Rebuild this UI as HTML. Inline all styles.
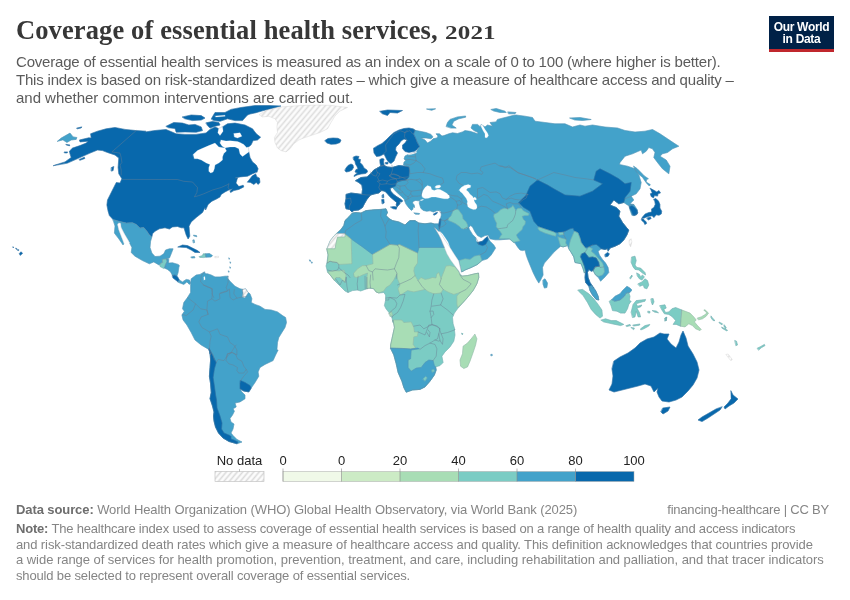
<!DOCTYPE html>
<html lang="en">
<head>
<meta charset="utf-8">
<title>Coverage of essential health services, 2021</title>
<style>
html,body{margin:0;padding:0;background:#fff;}
body{width:850px;height:600px;position:relative;overflow:hidden;font-family:"Liberation Sans",sans-serif;color:#5b5b5b;}
.abs{position:absolute;white-space:nowrap;}
#title{left:16px;top:14.5px;font-family:"Liberation Serif",serif;font-weight:bold;font-size:26.5px;line-height:30px;color:#373737;letter-spacing:0px;}
.sub{left:16px;font-size:15px;line-height:18px;color:#5b5b5b;}
#logo{left:769px;top:16px;width:65px;height:33px;background:#002147;border-bottom:3px solid #c0272d;color:#fff;font-weight:bold;font-size:12px;line-height:12px;text-align:center;letter-spacing:-0.3px;}
#logo span{display:block;}
.ft{font-size:13px;line-height:15.5px;color:#858585;}
.ft b{color:#6e6e6e;}
.lg{font-size:12px;color:#222;}
svg{position:absolute;left:0;top:0;}
#yr{display:inline-block;font-size:17.8px;transform-origin:0 100%;transform:scale(1.41,1);}
#title{letter-spacing:0.118px;}
#s1{letter-spacing:-0.198px;}
#s2{letter-spacing:-0.199px;}
#s3{letter-spacing:-0.021px;}
#f1{letter-spacing:-0.095px;}
#f2{letter-spacing:-0.201px;}
#f3{letter-spacing:-0.194px;}
#f4{letter-spacing:-0.107px;}
#f5{letter-spacing:-0.041px;}
#f6{letter-spacing:-0.150px;}
</style>
</head>
<body>
<div id="title" class="abs">Coverage of essential health services, <span id="yr">2021</span></div>
<div class="abs sub" id="s1" style="top:52.6px">Coverage of essential health services is measured as an index on a scale of 0 to 100 (where higher is better).</div>
<div class="abs sub" id="s2" style="top:70.6px">This index is based on risk-standardized death rates – which give a measure of healthcare access and quality –</div>
<div class="abs sub" id="s3" style="top:88.6px">and whether common interventions are carried out.</div>
<div id="logo" class="abs"><span style="margin-top:5px">Our World</span><span>in Data</span></div>
<svg id="map" width="850" height="600" viewBox="0 0 850 600">
<defs><pattern id="hatch2" width="4.2" height="4.2" patternUnits="userSpaceOnUse" patternTransform="rotate(40)"><rect width="4.2" height="4.2" fill="#fcfcfc"/><line x1="2.1" y1="0" x2="2.1" y2="4.2" stroke="#dddddd" stroke-width="1.5"/></pattern></defs>
<g stroke-linejoin="round" stroke-linecap="round">
<path d="M53.5,165.6 65,161.9 71.2,157.5 70,153.8 69.4,151.2 72.5,148.1 80,145.6 86.2,143.1 88.1,141.2 80,141.9 79.4,140 88.8,137.8 91.2,138.1 90.6,133.8 97.5,131.2 106.2,128.8 115,127.5 125,129.4 136.2,130.6 146,131.2 145,132 155,130.5 166,129.5 172,132 176,133.8 185,134.4 196,134.4 206,133 210,129.4 215,127 218.5,128.5 222.5,126.9 227.5,123.8 235,123.1 245,125 252.5,128.8 256.3,133.8 260.6,137.2 257.5,140 253.1,140.6 251.3,144.4 248.5,147.5 248.8,151.9 250,157.5 252.5,161.9 256.2,165 258.1,168.8 256.9,172.5 252.5,173.8 247.5,176.2 240,176.9 235,178.1 237.5,178.1 236.2,183.1 238.8,186.2 243.1,185 243.8,186.9 238.8,189.4 233.8,190.6 230.6,192.5 230,191.2 232.5,188.8 228.8,190 225,191.9 221.2,194.4 220,196.9 216.9,198.8 211.9,201.2 208.1,204.4 205.6,210 205,207.5 202.5,212.5 196.2,217.5 191.2,221.9 189,226.2 189.4,231.2 189.8,236.2 188.1,239 186.2,235 185,231.2 184,227.8 181.2,227.8 177.5,226.5 172.5,226.9 169.4,229 165,227.8 159.4,228.8 155,231.2 152.5,233.8 151.9,236.9 149.4,235 146.9,231.2 143.8,227.5 140,228.1 136.2,224.4 132.5,222.8 126.2,223.1 118.8,221.2 113.1,219.6 109.4,215.6 108.1,211.2 106.9,205 107.5,200 109,197 112.5,190 116.3,182.5 120,183.1 121.9,178.8 118.8,173.8 118.1,167.5 118.8,158.1 115,155 107.5,152.5 102.5,150.6 97.5,150 90,153.1 78.8,158.1 67.5,163.1Z" fill="#0868ac" stroke="#0868ac" stroke-width="0.5"/>
<path d="M193.1,154.4 197.5,150.5 201.3,148.8 208.8,145.6 215,143.1 218.8,146.9 225,148.1 226.5,151 223.8,153.5 222.5,156.9 222.5,160 218.8,163.1 215,165 214.4,168.8 213.1,171.9 210.6,173.1 208.8,171.3 208.8,167.5 210,164.4 206.3,163.1 201.3,160 197.5,158.8 194.4,158.8Z" fill="#fff" stroke="#fff" stroke-width="0.2"/>
<path d="M221,140 226,141 230,140.7 237.5,141.5 240,142.5 243.8,144.4 246.5,147.5 250.5,146.5 252,149 248.8,151.9 246,154 242.5,156.5 240,154 238.8,148.8 235,146.9 230,147 226.9,147.5 225,148.1 222,146 220,143Z" fill="#fff" stroke="#fff" stroke-width="0.2"/>
<path d="M113.1,219.6 118.8,221.2 126.2,223.1 132.5,222.8 136.2,224.4 140,228.1 143.8,227.5 146.9,231.2 149.4,235 151.9,236.9 150.6,241.2 150,247.5 151.9,253.1 155,256.5 160,256.2 163.8,253.8 165.6,250 169.4,248.8 173.1,248.8 171.2,253.8 169.4,258.1 166.9,258.8 162.5,259.4 162.5,262.5 160,263.8 159.4,265.2 153.8,261.9 149.4,263.8 142.5,260.6 135,256.2 131.2,252.5 131.9,247.5 128.1,240 124.4,233.8 121.2,227.5 120.6,223.1 118.8,222.8 117.5,224.4 118.8,230 121.2,236.2 123.8,243.1 123.1,245 118.8,238.8 114.4,233.1 115,226.2Z" fill="#43a2ca" stroke="#43a2ca" stroke-width="0.5"/>
<path d="M118.8,223 120.6,223.2 121.2,227.5 124.4,233.8 128.1,240 129.8,243.1 123.8,243.1 121.2,236.2 118.8,230 117.5,224.4Z" fill="#fff" stroke="#fff" stroke-width="0.2"/>
<path d="M162.5,259.4 166.9,258.8 166.9,262.5 165,265 166.2,266.5 163.8,268.5 160,266.5 160,263.8 162.5,262.5Z" fill="#7bccc4" stroke="#7bccc4" stroke-width="0.5"/>
<path d="M178.1,246.9 182.5,245 187.5,245.6 192.5,248.1 197.5,250.6 200,252.5 195,252.5 191.2,250 186.2,247.5 181.2,247.2Z" fill="#0868ac" stroke="#0868ac" stroke-width="0.5"/>
<path d="M166.2,126.2 173.8,122.5 182.5,123.1 188.8,125 195,124.4 201.2,126.9 202.5,130.6 196.2,132.2 185,131.9 176.2,132.2 175,128.5 168.8,127.8Z" fill="#0868ac" stroke="#0868ac" stroke-width="0.5"/>
<path d="M182.5,116.9 191.2,115 201.2,115.6 205,118.1 201.2,120 192.5,120.6 185,118.8Z" fill="#0868ac" stroke="#0868ac" stroke-width="0.5"/>
<path d="M206.2,122.8 212.5,121.5 218.8,122.5 220,125 215,126.2 210,128.1 207.5,125.6Z" fill="#0868ac" stroke="#0868ac" stroke-width="0.5"/>
<path d="M211.3,118.8 215,112.5 225,112.5 231,109.4 241,107.5 255,105.6 269,105.5 281,106 272.5,108.2 262.5,110.8 256,112.7 250,114 247.5,115 242.5,120.6 235,120.6 227.5,118.8 220,121.3 213.8,120.6Z" fill="#0868ac" stroke="#0868ac" stroke-width="0.5"/>
<path d="M218.8,126.5 222.5,126.9 223.1,131.2 220,135.6 217.8,132.8 218.5,129.4Z" fill="#fff" stroke="#fff" stroke-width="0.2"/>
<path d="M233.8,133.5 240,132.8 241.9,136.2 237.5,138.1 234.4,136.9Z" fill="#fff" stroke="#fff" stroke-width="0.2"/>
<path d="M215,116 225,115.2 225.2,116.2 216.2,117.1Z" fill="#fff" stroke="#fff" stroke-width="0.2"/>
<path d="M247.5,181.9 252.5,175.6 255.6,173.8 256.9,176.9 259.4,178.1 260,182.5 258.1,184.4 256.2,182.5 253.8,184.4 250.6,182.5Z" fill="#0868ac" stroke="#0868ac" stroke-width="0.5"/>
<path d="M256.9,172.5 253.1,174.8 248.1,177.2 241.2,178.1 238.1,178.4 236.5,183.1 239,186 243.1,184.8 246.2,181.5 251.2,175.6 255,173.1Z" fill="#fff" stroke="#fff" stroke-width="0.2"/>
<path d="M259.4,114.4 266,110.6 281,106.9 300,105.6 318.8,105 331,105.4 347.5,107.5 340,111 335,116 331,122.5 327.5,128.8 320,132.5 312.5,135 305,137.5 298.8,140 293.8,143.8 290,148.8 286,151.9 281,150.6 277.5,148 275,142.5 274.4,137.5 277.5,132.5 276.9,126.9 277.5,122.5 275,118.8 268.8,116.3 262.5,116.9Z" fill="url(#hatch2)" stroke="#d0d0d0" stroke-width="0.4"/>
<path d="M325,140.5 328,138.5 333,138 338,138.3 341,140 340,142.5 336,144 331,144.3 327,143Z" fill="#0868ac" stroke="#0868ac" stroke-width="0.5"/>
<path d="M57.5,141.2 61.2,138.1 70,133.1 73.1,136.9 76.9,137.5 76.2,139.4 71.2,140 66.9,142.5 63.1,140Z" fill="#43a2ca" stroke="#43a2ca" stroke-width="0.5"/>
<path d="M76.9,128.1 81.9,126.9 81.2,127.9 77.5,128.8Z" fill="#0868ac" stroke="#0868ac" stroke-width="0.5"/>
<path d="M66.2,144.4 70,145 69.4,145.8 66.5,145Z" fill="#0868ac" stroke="#0868ac" stroke-width="0.5"/>
<path d="M64.4,152 67.5,151.9 67.2,152.9 64.8,152.9Z" fill="#0868ac" stroke="#0868ac" stroke-width="0.5"/>
<path d="M79.4,159.4 84.4,157.2 84.8,158.5 80,160.2Z" fill="#0868ac" stroke="#0868ac" stroke-width="0.5"/>
<path d="M111.5,167.5 113.8,166.5 113.1,170.6 111.5,171Z" fill="#0868ac" stroke="#0868ac" stroke-width="0.5"/>
<path d="M166.9,258.8 168.8,259.4 168.5,263.1 172.5,262.8 178.1,264.4 179.4,265.6 178.8,267.5 178.1,272.5 176.9,276.2 175,275 172.5,275.6 170.6,271.9 167.5,269.4 164.4,268.1 165.6,264.4 166.9,261.9Z" fill="#43a2ca" stroke="#43a2ca" stroke-width="0.5"/>
<path d="M172.5,275.6 175,275 176.9,276.2 177.8,277.2 179.4,280 178.1,281.9 175.6,280 173.1,278.1Z" fill="#0868ac" stroke="#0868ac" stroke-width="0.5"/>
<path d="M178.1,281.9 179.4,280 182.5,281.9 186.2,279.4 189.4,280 190.6,283.1 189.4,284.4 186.9,281.9 183.8,284.4 181.2,283.5Z" fill="#43a2ca" stroke="#43a2ca" stroke-width="0.5"/>
<path d="M191.2,256.9 194.4,256.5 195,257.8 191.9,258Z" fill="#43a2ca" stroke="#43a2ca" stroke-width="0.5"/>
<path d="M199.4,256.5 202.5,255.6 203.1,253.8 205.6,253.8 206.2,257 203.8,257.6 200,257.4Z" fill="#7bccc4" stroke="#7bccc4" stroke-width="0.5"/>
<path d="M205.6,253.8 209.4,253.5 212.5,255.6 211.2,257 206.2,257.2Z" fill="#43a2ca" stroke="#43a2ca" stroke-width="0.5"/>
<path d="M215,256.5 218.5,256.2 218.5,257.5 215.2,257.8Z" fill="url(#hatch2)" stroke="#d0d0d0" stroke-width="0.4"/>
<path d="M193.1,240 194.1,239.8 194.6,242.5 193.6,242.8Z" fill="#43a2ca" stroke="#43a2ca" stroke-width="0.5"/>
<path d="M193.8,235.2 196.5,235.6 196.8,236.8 196,236.5 194,236Z" fill="#43a2ca" stroke="#43a2ca" stroke-width="0.5"/>
<path d="M190.6,283.1 191.2,278.8 196.2,275 200,274.4 204.4,271.9 205.6,273.8 207.5,273.8 211.2,275 215,276.9 220,276.9 225,276.2 228.1,276.2 227.5,278.1 230,281.2 235,286.2 240,288.8 243.1,289.4 245.6,288.8 248.1,292.5 250,293.8 251.9,298.8 251.2,302.5 255,304.4 260,306.2 265,309.4 271.2,310 277.5,311.9 282.5,315.6 285.6,317.5 286.5,322.5 285,327.5 281.9,332.5 278.8,337.5 277.5,342.5 276.9,350 278.1,350 275.6,355 273.1,360.6 265,364.4 260,367.5 258.1,371.9 258.8,376.2 255,382.5 251.2,388.1 248.8,391.9 243.8,391 240,388.8 241.9,391.9 245,395 245,398.8 240,401.9 235,403.1 236.2,406.9 233.1,408.8 234.4,411.2 232.5,415 232.5,415 230,418.5 231,422 234,424 233,429 231,433 233,435.5 237,439.5 242,442 237,443.8 229,441.5 223,438 218.5,433 215.5,427 214,421 213.5,416 214,412 212.5,406 210.5,400 210,398.8 211.2,392.5 210.6,383.8 209.4,376.2 210,367.5 210.6,360 210,352.5 210.6,355 208.8,349.4 201.2,345 195,340 191.2,332.5 186.9,325 183.1,320 181.9,315 184.4,311.2 182.5,308.8 183.8,302.5 187.5,297.5 190.6,292.5 190.6,285Z" fill="#43a2ca" stroke="#43a2ca" stroke-width="0.5"/>
<path d="M242.5,289.4 245.6,288.8 248.1,292.5 245,297.5 242.5,296.9 243.1,293.1Z" fill="url(#hatch2)" stroke="#d0d0d0" stroke-width="0.4"/>
<path d="M208.8,349.4 210.6,355 210,352.5 210.6,360 210,367.5 209.4,376.2 210.6,383.8 211.2,392.5 210,398.8 210.5,400 212.5,406 214,412 213.5,416 214,421 215.5,427 218.5,433 223,438 229,441.5 237,443.8 238,442 234,440 231,439 231,436.5 230,435.5 224,433 221.5,429 222,423 220,416 217,408 216.5,400 215.6,395 214.4,386.2 213.1,377.5 214.4,368.8 216.2,362.5 213.1,356.2 209.4,348.8Z" fill="#0868ac" stroke="#0868ac" stroke-width="0.5"/>
<path d="M240.6,380.6 245,382.5 250,385.6 251.2,388.1 248.8,391.9 243.8,391 240,388.8 240,383.8Z" fill="#0868ac" stroke="#0868ac" stroke-width="0.5"/>
<path d="M203.8,276.9 204.8,276.5 205.2,279.4 204,280Z" fill="#fff" stroke="#fff" stroke-width="0.2"/>
<path d="M413.8,130 420,131.3 426,132.5 431,134.4 433,136.9 431,138.8 426,138 421,138 425,140 427.5,143 431,141 433,138.8 437,138 438,136 436,133.8 439.4,133.8 442,136 444,135.6 448.8,133.8 452.5,132.8 457.5,133.5 462.5,131.9 465,130.6 470,131.3 474,132.5 477.5,133.8 478,132.5 474,130.6 471,128 472.5,124.4 477.5,124.4 480.5,127 481,124.4 485,126.9 487.5,125 492.5,126.3 490,122.5 496,121.9 497.5,119.4 505,117.5 512.5,115.6 516,115 525,116.2 532.5,117.5 535,121.2 545,122.5 555,123.8 565,123.8 572.5,127 580,125 585,126.2 592.5,125 605,127 617.5,128 625,130.5 635,132 645,131.2 652.5,129.5 660,133.8 667.5,138.8 675,143.8 678.8,146.2 672.5,148.8 667.5,152.5 662.5,153.8 660,156.2 666.2,160 670,166.2 668.8,173.8 662.5,168.8 657.5,162.5 653.8,157.5 655,152.5 652.5,148.8 648.8,147.5 646.2,151.2 642.5,153.8 641.2,150 632.5,153.8 625,156.2 620,162.5 619.5,164.5 627.5,166.2 635,168.8 638.8,175 641.2,182.5 640,188.8 636.2,193.8 631.2,196.2 633.8,200 630,203.8 633.8,204.5 637.5,210 636.2,214.5 632,215.5 630,210 628.8,205.5 627.5,205 623.8,202.5 618.8,203.8 613.8,200 610,205 616.2,207.5 620,211.2 618.8,216.2 622.5,222.5 627.5,228.8 628.8,230 626.9,235 623.8,240 620,243.8 615,246.2 610,248.1 608.1,251.2 607.5,248.8 605,249.4 601.2,248.8 598.1,251.2 599.4,255 602.5,259.4 605.6,263.1 608.1,267.5 608.8,272.5 605,276.9 600.6,281.2 598.8,278.1 595.6,275 593.1,270.6 591.2,271.2 588.8,269.4 587.5,272.5 588.1,277.5 590,282.5 592.5,286.2 592,286 595.6,290.6 598,296 598.8,300 596,299.4 592.5,295 590,290.6 588.8,286 585.6,282.5 585,277.5 585.6,271 584.4,273.1 583.1,268.8 581.2,263.8 578.1,263.1 575,262.5 573.8,256.9 571.2,252.5 568.8,248.8 567.5,245.6 563.1,246.9 560.6,246.2 556.9,249.4 553.1,253.1 548.8,258.1 544.4,263.1 542.5,267.5 543.1,275 540.6,280 538.8,283.1 536.2,278.8 533.1,272.5 530,265 527.5,258.8 526.2,255 525,250 522.5,250.6 520,250 517.5,246.9 515,243.1 512.5,241.2 510,239 500,239.8 495,239.8 490,238.8 488.1,235 485,235.6 481.2,237.5 477.5,235.6 475,231.9 472.5,226.9 470.6,225.6 468.8,227.5 469.4,229.4 472.5,234.4 475.6,237.5 476.2,241.2 478.1,242.5 482.5,241.2 486.2,237.5 487.5,236.5 488.1,238.1 490,241.2 493.8,245 495.6,248.1 491.2,255 487.5,258.8 481.9,260.6 477.5,264.4 471.2,267.5 465,270 461.9,271.9 461.2,271.9 460.6,268.1 458.8,261.2 454.4,254.4 450,247.5 445,240 440,231.9 439.4,229.3 440,222.9 440.4,219.2 441.3,215 440.8,211.3 439.2,210.4 436.7,210.8 433.3,212 430,210.8 426.7,211.3 423.3,210.4 420.8,208.3 420,205.8 419.2,202.9 420,200.8 417.9,200.8 415.8,200.4 413.3,201.3 412.5,202.9 414.2,205 414.6,207.5 413.3,206.7 412.9,209.2 411.7,210.4 410,209.2 407.9,206.7 405.8,203.8 405,201.7 404.2,199.2 401.7,196.7 398.3,193.8 395,190.4 392.5,187.5 390,188.3 390.8,191.3 393.3,194.2 396.7,196.7 400,198.8 402.5,200.8 401.7,202 399.6,201.7 400,203.3 398.8,205 397,206.7 396.2,205 396.7,202.5 393.3,199.6 390,196.7 387.5,193.8 385,191.3 381.7,190.4 378.8,193 375,193.8 370.6,195 366.9,199.4 364.4,203.8 362.5,207.5 358.8,210 353.8,210.6 351.9,211.9 349.4,209.4 346,208.8 345,203.8 346,198.8 346,194.4 351,193 357.5,193.8 361.9,194.4 362.5,189.4 361.9,185 358.8,182.5 355.6,180.6 361,177.5 367,176.9 370.6,173.8 373.8,170 377.5,168 381,166 384,165.5 387.5,166.9 392,167.5 398.8,165.6 403.8,166 408.8,166.9 403.5,165 404,162 406,160.5 404,159 405,156 408,154.5 412,153.3 416.5,151.5 419.5,146.5 417,142 415.5,138 413.5,134 415,130.5 413.5,129Z" fill="#43a2ca" stroke="#43a2ca" stroke-width="0.5"/>
<path d="M355.6,180.6 361,177.5 367,176.9 370.6,173.8 373.8,170 377.5,168 381,166 384,165.5 387.5,166.9 392,167.5 398.8,165.6 403.8,166 408.8,166.9 409.4,170.6 408.8,176.9 406,180 401.9,180.6 397.5,181.9 396,183.8 395.6,186 392,187.5 390,188.3 390.8,191.3 393.3,194.2 396.7,196.7 400,198.8 402.5,200.8 401.7,202 399.6,201.7 400,203.3 398.8,205 397,206.7 396.2,205 396.7,202.5 393.3,199.6 390,196.7 387.5,193.8 385,191.3 381.7,190.4 378.8,193 375,193.8 370.6,195 366.9,199.4 364.4,203.8 362.5,207.5 358.8,210 353.8,210.6 351.9,211.9 349.4,209.4 346,208.8 345,203.8 346,198.8 346,194.4 351,193 357.5,193.8 361.9,194.4 362.5,189.4 361.9,185 358.8,182.5Z" fill="#0868ac" stroke="#0868ac" stroke-width="0.5"/>
<path d="M373.5,148.5 374,153 376.5,156.5 380,156 384,154 385.5,157 387,160 389,162.5 391,163.5 394,161 395.5,157 397.5,153 395.5,150 396,147 399,144 401,141 404,139 407,140 405,143 402.5,145 402.5,148.5 405,151.5 409,152.5 414,151.5 416.5,150 419.5,146.5 417,142 415.5,138 413.5,134 415,130.5 413.5,129 409,128 404,128.5 399,130 394,132.5 390,136 386,140 382,143.5 378,145.5Z" fill="#0868ac" stroke="#0868ac" stroke-width="0.5"/>
<path d="M380,159.5 382,158.5 384,159 383.5,162 384.3,165.8 380.8,166.2 380,163Z" fill="#0868ac" stroke="#0868ac" stroke-width="0.5"/>
<path d="M385.5,162.5 388,162.2 387.8,164 385.8,164Z" fill="#0868ac" stroke="#0868ac" stroke-width="0.5"/>
<path d="M353.5,157 356,156 359,156.5 358,159 360.5,159.5 360,162.5 362.5,165 364,168 367,170 367.5,172 365.5,173.5 361,174 357,175 354,176.5 354.5,175 357.5,173 355,172 356,169.5 358,169 357,166.5 355.5,164 355,161.5 353.5,159.5Z" fill="#0868ac" stroke="#0868ac" stroke-width="0.5"/>
<path d="M346,168 348,165.5 351,164 353,165 353.5,167.5 352,170 349,171.5 346,172 345,170.5Z" fill="#0868ac" stroke="#0868ac" stroke-width="0.5"/>
<path d="M390.8,207 393.8,206.5 397,206.9 396.3,209.2 393.3,208.8Z" fill="#0868ac" stroke="#0868ac" stroke-width="0.5"/>
<path d="M381.8,199.6 383.8,199.2 384.2,202.9 382.5,203.8Z" fill="#0868ac" stroke="#0868ac" stroke-width="0.5"/>
<path d="M382.3,195 383.5,194.3 383.8,197.5 382.5,197.7Z" fill="#0868ac" stroke="#0868ac" stroke-width="0.5"/>
<path d="M433.3,214.2 435.4,212.9 437.5,212.3 436.7,213.8 434.6,215Z" fill="#0868ac" stroke="#0868ac" stroke-width="0.5"/>
<path d="M414.2,212.9 419.6,213.5 419.2,214.3 415.8,214.2Z" fill="#43a2ca" stroke="#43a2ca" stroke-width="0.5"/>
<path d="M421.7,195 422.9,190.8 425,187.5 427.5,185.4 430.8,186.7 431.7,189.6 434.2,190.4 437.5,189.2 440,189.6 443.3,191.2 446.7,193.3 449.2,195.4 449.6,197.5 447.9,198.8 444.2,198.8 440,197.9 435.8,197.1 431.7,197.1 428.3,198.3 425,198.5 422.5,197.3Z" fill="#fff" stroke="#fff" stroke-width="0.2"/>
<path d="M435,186.7 436.7,185.4 440,185 440.8,186.7 439.2,187.9 435.8,188.2Z" fill="#fff" stroke="#fff" stroke-width="0.2"/>
<path d="M459.2,190 461.2,187.5 464.2,185.4 468.3,184.6 470.8,185.4 470.4,187.5 467.5,188.3 466.2,190 468.3,191.7 470,194.2 472.5,196.2 473.3,197.9 475,197.1 476.7,199.2 475.4,200 473.8,199.6 474.6,202.1 476.7,205 477.1,207.9 475.8,209.3 473.3,209.6 470,208.3 467.9,206.7 467.1,204.2 467.5,201.2 466.2,198.3 464.2,195.8 462.1,192.9 460.4,191.7Z" fill="#fff" stroke="#fff" stroke-width="0.2"/>
<path d="M420.4,200 423.3,199.2 423.3,200 420.8,200.7Z" fill="#fff" stroke="#fff" stroke-width="0.2"/>
<path d="M480.6,124.4 482.5,125 485,129.4 487.5,133 488.5,135.6 487,137.8 485,137.5 485,133.8 483,130.6 481.3,127Z" fill="#fff" stroke="#fff" stroke-width="0.2"/>
<path d="M446.2,126.2 447.5,122.5 450,119.4 457.5,116.9 465.6,116 465.6,117.2 458.8,118.8 453.8,121.2 451.9,125 456.2,128.1 451.2,128.1Z" fill="#43a2ca" stroke="#43a2ca" stroke-width="0.5"/>
<path d="M426.9,109 435.6,108.8 431.9,110.2Z" fill="#43a2ca" stroke="#43a2ca" stroke-width="0.5"/>
<path d="M491.2,109.4 496.2,108.5 505,111.2 506.2,112.5 500,112.5 493.8,111Z" fill="#43a2ca" stroke="#43a2ca" stroke-width="0.5"/>
<path d="M508.1,111.9 516,112.5 515,113.8 508.8,113.8Z" fill="#43a2ca" stroke="#43a2ca" stroke-width="0.5"/>
<path d="M570,118 580,117.5 591.2,119.5 582.5,120.5 575,120Z" fill="#43a2ca" stroke="#43a2ca" stroke-width="0.5"/>
<path d="M633.8,166.3 637,168.5 641,172.5 644.3,175.9 648.4,178.7 646.6,179.6 646.1,181.9 650.3,184.6 649.3,186 646.6,183.2 644.3,180 642.5,177.3 639,174.5 636,171.5Z" fill="#43a2ca" stroke="#43a2ca" stroke-width="0.5"/>
<path d="M650.3,188.3 653.5,190.1 656.7,191.9 659,190.6 660.5,192.9 658,193.8 657.6,196.1 654.4,195.6 653.5,197.9 651.2,196.5 650.3,193.8 652.1,192.9Z" fill="#0868ac" stroke="#0868ac" stroke-width="0.5"/>
<path d="M653.9,199.3 655.8,198.4 658.5,201.1 659.9,204.3 659.9,208 661.7,211.2 661.3,213.9 659,215.3 656.2,214.8 653.9,217.6 652.1,215.8 649.3,216.2 646.6,217.1 644.3,218 641.6,218.5 642.5,217.1 645.2,213.9 648.9,212.5 651.6,212.1 651.6,208.9 653.9,207.5 655.3,204.3 654.8,201.6Z" fill="#0868ac" stroke="#0868ac" stroke-width="0.5"/>
<path d="M641.6,219 643.4,219 644.3,220.3 646.1,221.7 646.6,223.5 644.8,224.5 643.9,222.2 642,220.8Z" fill="#0868ac" stroke="#0868ac" stroke-width="0.5"/>
<path d="M647.1,218 650.3,217.1 651.2,218.5 648.4,219.9Z" fill="#0868ac" stroke="#0868ac" stroke-width="0.5"/>
<path d="M352.5,213 356,212.5 361,213 366,210.6 373.8,209.8 381,209.4 386,208.8 387.5,212.5 386,215.6 389.4,218.8 392.5,220.6 398.8,221.9 405,225 407.5,222.5 410,220.6 415,220.6 418.8,223 425,223.8 431,223 433.8,223.8 434.5,227.8 436.8,231.5 439,235.3 440.9,239 442.4,242.8 443.8,246 446.9,253.8 450.6,260 455,266 458.8,271 460.6,274.4 461.9,276.2 467.5,275.6 473.8,274 478.5,273.1 478.8,277.5 476.9,283.8 473.1,290.6 467.5,297.5 461.9,303.8 457.5,308.8 454.4,313.1 452.5,317.5 453.1,323.8 455,330 454.4,329.4 455,335 453.8,341.2 450,346.9 445,351.9 441.9,356.2 443.1,362.5 440,365.6 435.6,366.9 436.2,370 434.4,375 430,381.2 425,386.9 420,389.4 412.5,390 406.2,392.2 403.8,387.5 401.9,381.2 398.1,372.5 396.2,363.8 393.8,355 390.6,348.1 390.6,345 392.5,336.2 394.4,327.5 393.1,320 393,322.5 391.9,317.5 389.4,313 386,308.8 384.4,305.6 385.6,300 385.6,295 383.8,292.5 378.8,293 376,291.9 373.8,288.8 368.8,288 365,289.4 360.6,291 357.5,290 352.5,290.6 348,292.5 345,291 340,286 335,281 331,276 327.5,271.9 326,266 326.9,263 328,255 326.9,248.8 330,241 333.8,236 336.9,233 341,229.4 343.8,225.6 345,220.6 348.8,216.9Z" fill="#7bccc4" stroke="#7bccc4" stroke-width="0.5"/>
<path d="M352.5,213 356,212.5 361,213 366,210.6 373.8,209.8 381,209.4 386,208.8 387.5,212.5 386,215.6 389.4,218.8 392.5,220.6 398.8,221.9 405,225 407.5,222.5 410,220.6 415,220.6 418.8,223 425,223.8 431,223 433.8,223.8 438.8,223.8 439.4,229.3 440,231.5 438.5,231.5 436.5,229.5 434.5,227.8 436.8,231.5 439,235.3 440.9,239 442.4,242.8 443.8,246 444.5,247.5 431,247.5 419,247.5 417.5,253.1 399.4,244.4 397.5,245.2 390,244.4 379.4,250.6 372.5,254.4 362.5,246.9 351.2,239 345,234 345,233.5 336.9,233.5 341,229.4 343.8,225.6 345,220.6 348.8,216.9Z" fill="#43a2ca" stroke="#43a2ca" stroke-width="0.5"/>
<path d="M326.9,248.8 330,241.2 333.8,236.2 336.9,233.5 345,233.5 345,236.9 337.5,237.2 336.2,242.5 335,248.8Z" fill="url(#hatch2)" stroke="#d0d0d0" stroke-width="0.4"/>
<path d="M326.9,248.8 335,248.8 336.2,242.5 337.5,237.2 345,236.9 345,234 351.2,239 351.9,263.8 338.8,264.4 336.9,262.5 332.5,261.9 330,261.2 327.5,263.1 328.1,255Z" fill="#a8ddb5" stroke="#a8ddb5" stroke-width="0.5"/>
<path d="M328,272 333,270.5 339,271 344,270 346,275 345,282.5 342.5,280 340,277.5 336,277.5 334.4,280.6 331,276Z" fill="#a8ddb5" stroke="#a8ddb5" stroke-width="0.5"/>
<path d="M353.8,273 357.5,268.8 362.5,265.6 366.3,265.6 373,263.8 372.5,254.4 379.4,250.6 390,244.4 397.5,245.3 399.4,244.4 417.5,253 417.5,263 414.4,267.5 413.8,271 415,275.6 418,280.6 421,277.5 425,279.4 428.8,278.8 432.5,277.5 436,278 436.9,273.8 438.8,272.5 441,278.8 443,273.8 446,266 450,265.6 455,266.9 458.8,271.9 460,275 461.9,276 467.5,275.6 473.8,274 478.5,273.1 478.8,277.5 476.9,283.8 473.1,290.6 467.5,297.5 461.9,303.8 457.5,307.5 456.9,303.8 456.9,296 460,292.5 453.8,294.4 448.8,292.5 443,289.4 441,293 433.8,293.8 428.8,291.9 425,289.4 420,290.6 413.8,291.9 407.5,290.6 402.5,293.8 400,295 398,288.8 400,285 397.5,278.8 396.9,273.8 393.8,280 390,285 386,287.5 383.8,291 378.8,293 376,291.9 373.8,288.8 370.6,288 366.9,288.8 366.9,277.5 367.5,273 362.5,275 357.5,277.5 354.4,276.9Z" fill="#a8ddb5" stroke="#a8ddb5" stroke-width="0.5"/>
<path d="M393.1,320 401.9,320 403.8,322.5 411.2,321.9 413.8,327.5 414.4,331.9 418.1,331.9 417.5,336.2 413.8,336.9 413.1,344.4 415.6,347.8 410.6,349 403.8,348.5 390.6,348.1 390.6,345 392.5,336.2 394.4,327.5Z" fill="#a8ddb5" stroke="#a8ddb5" stroke-width="0.5"/>
<path d="M389,313 391.5,311.5 392.5,315.5 390.5,316.5Z" fill="#a8ddb5" stroke="#a8ddb5" stroke-width="0.5"/>
<path d="M390.6,348.1 403.8,348.5 410.6,349 417.5,348.1 419.4,348.8 411.2,350 410.6,358.8 408.1,360 408.1,367.5 411.2,371.2 416.2,368.1 421.2,367.5 425,362.5 428.8,360 433.1,360.6 434.4,365.6 435.6,366.9 436.2,370 434.4,375 430,381.2 425,386.9 420,389.4 412.5,390 406.2,392.2 403.8,387.5 401.9,381.2 398.1,372.5 396.2,363.8 393.8,355Z" fill="#43a2ca" stroke="#43a2ca" stroke-width="0.5"/>
<path d="M423.1,378.8 425.6,376.5 427.2,377.8 425,381Z" fill="#7bccc4" stroke="#7bccc4" stroke-width="0.5"/>
<path d="M431.9,370 433.8,369.4 434.4,371.2 432.5,372.2Z" fill="#7bccc4" stroke="#7bccc4" stroke-width="0.5"/>
<path d="M475,334.4 476.9,338.8 475.6,345 473.1,352.5 470,361.2 467.5,366.9 463.8,368.5 460.6,366.2 460,360 462.5,353.8 463.1,346.2 467.5,343.1 471.2,338.8Z" fill="#a8ddb5" stroke="#a8ddb5" stroke-width="0.5"/>
<path d="M518.8,202.5 526.2,195 530,186.2 537.5,180 547.5,185 553.8,188.8 565,195 580,196.2 592.5,191.2 602.5,183.8 593.8,180 596.2,171.2 600,168.8 610,173.8 618.8,178.8 625,183.8 631.2,182.5 630,191.2 625,197.5 623.8,202.5 618.8,203.8 613.8,200 610,205 616.2,207.5 620,211.2 618.8,216.2 622.5,222.5 627.5,228.8 628.8,230 626.9,235 623.8,240 620,243.8 615,246.2 610,248.1 608.1,251.2 607.5,248.8 605,249.4 601.2,248.8 598.8,246.2 596.2,244.4 592.5,245 588.8,246.9 585,247.5 581.2,242.5 580,238.1 578.1,233.1 574.4,231.2 573.1,228.1 570,228.8 565,231.2 558.8,232.5 553.8,231.9 546.2,229.4 538.8,226.9 533.8,221.2 530,211.2 523.8,207.5Z" fill="#0868ac" stroke="#0868ac" stroke-width="0.5"/>
<path d="M605,254.4 607.5,252.5 609.4,253.8 608.1,256.2 605.6,256.9Z" fill="#0868ac" stroke="#0868ac" stroke-width="0.5"/>
<path d="M629.7,206.6 632,205.7 634.7,207.5 637,210.3 637.9,213 636.5,214.8 633.8,215.8 632.4,213.9 631.5,211.2 630.1,208.9Z" fill="#0868ac" stroke="#0868ac" stroke-width="0.5"/>
<path d="M629.4,240 631.2,238.8 631.9,241.9 630.6,246.9 629.4,244.4Z" fill="url(#hatch2)" stroke="#d0d0d0" stroke-width="0.4"/>
<path d="M538.8,226.9 546.2,229.4 553.8,231.9 556.2,233.8 555.6,236.2 551.2,235 545,233.1 539.4,230.6 538.1,228.8Z" fill="#7bccc4" stroke="#7bccc4" stroke-width="0.5"/>
<path d="M558.8,232.5 563.1,232.5 563.8,234.4 559.4,235Z" fill="#7bccc4" stroke="#7bccc4" stroke-width="0.5"/>
<path d="M558.1,236.9 561.2,238.1 566.2,239.4 565.6,243.1 567.5,245.6 563.1,246.9 560.6,246.2 559.4,241.9Z" fill="#7bccc4" stroke="#7bccc4" stroke-width="0.5"/>
<path d="M578.1,233.1 580,238.1 581.2,242.5 585,247.5 586.9,249.4 585,252.5 581.9,253.8 580.6,256.9 582.5,261.2 584.4,266.2 585.6,271.2 584.4,273.1 583.1,268.8 581.2,263.8 578.1,263.1 575,262.5 573.8,256.9 571.2,252.5 568.8,248.8 569.4,244.4 570.6,240 572.5,235.6 574.4,231.2 576.2,231.9Z" fill="#7bccc4" stroke="#7bccc4" stroke-width="0.5"/>
<path d="M586.9,249.4 588.8,246.9 592.5,248.8 591.2,251.2 595,254.4 598.1,258.1 602.5,263.1 603.8,266.9 604.4,271.9 602.5,275 598.8,276.2 595.6,275 593.1,270.6 595,266.9 599.4,266.2 598.8,262.5 596.2,258.1 592.5,256.9 588.8,257.5 586.9,255 585,252.5Z" fill="#7bccc4" stroke="#7bccc4" stroke-width="0.5"/>
<path d="M581.9,253.8 585,252.5 586.9,255 588.8,257.5 592.5,256.9 596.2,258.1 598.8,262.5 599.4,266.2 595,266.9 593.1,270.6 591.2,271.2 588.8,269.4 587.5,272.5 588.1,277.5 590,282.5 592.5,286.2 594,287.8 592.2,288.8 588.8,286.2 585.6,282.5 585,277.5 585.6,271.2 584.4,266.2 582.5,261.2 580.6,256.9Z" fill="#0868ac" stroke="#0868ac" stroke-width="0.5"/>
<path d="M543.1,280 545,278.8 547.5,283.1 546.9,287.5 544.4,288.1 543.1,284.4Z" fill="#43a2ca" stroke="#43a2ca" stroke-width="0.5"/>
<path d="M448,218.8 451,216 453.3,210.5 455.9,209 458.5,209.8 460.8,213 462.3,215 463,218.8 466,221.8 467.5,224.8 467.9,227.4 466,228.5 463.8,228.9 461.5,228.5 459.3,226.3 455.5,223.6 451.8,221.8 448.8,220.6Z" fill="#7bccc4" stroke="#7bccc4" stroke-width="0.5"/>
<path d="M494.2,214.2 497.9,212.5 500.8,209.6 504.2,208.3 508.3,208.8 511.7,207.1 512.9,205.4 514.6,208.3 515.8,210.4 517.9,208.3 521.3,208.3 523.3,210.8 526.7,212.5 529.2,213.8 528.3,215.4 525,215.4 522.1,216.3 523.3,219.2 525.4,221.3 525,224.2 522.9,226.7 522.1,229.6 518.8,232.5 516.3,235 517.5,237.5 520,240.8 515.8,241.7 513.3,242.5 510.8,240 509.2,238.8 504.2,238.8 499.2,238.8 500.4,236.3 502.1,234.2 500,231.3 497.9,228.8 497.5,228.3 496.3,226.7 496.7,223.3 495,220 493.8,216.7Z" fill="#7bccc4" stroke="#7bccc4" stroke-width="0.5"/>
<path d="M459.4,260.6 465,258.8 470,259.4 474.4,256.2 480,255 481.9,260.6 477.5,264.4 471.2,267.5 465,270 461.9,271.9 460.6,268.1Z" fill="#7bccc4" stroke="#7bccc4" stroke-width="0.5"/>
<path d="M477.5,242.5 482.5,241.2 486.2,237.5 487.5,236.9 488.1,240 485.6,244.4 482.5,245.6 478.8,244.4Z" fill="#0868ac" stroke="#0868ac" stroke-width="0.5"/>
<path d="M439,222.5 439.8,218.8 440.9,219 440.6,222.5 440,226.3 439.4,229.3 438.8,225.5Z" fill="#0868ac" stroke="#0868ac" stroke-width="0.5"/>
<path d="M434.5,227.8 436.8,231.5 439,235.3 440.9,239 442.4,242.8 443.8,246 446.9,253.8 450.6,260 455,266 458.8,271 460.6,274.4 461.3,272.5 460.6,268 458.8,261 454.4,254.4 450,247.5 448,242 445,237.5 442.4,233.8 440,231.5 438.5,231.5 436.5,229.5Z" fill="#fff" stroke="#fff" stroke-width="0.2"/>
<path d="M578.1,290 582.5,289.4 588.8,293.8 593.8,298.8 598.1,304.4 601.9,310 602.5,316.2 600,318.1 595.6,314.4 591.2,309.4 587.5,302.5 583.1,295.6 579.4,291.9Z" fill="#7bccc4" stroke="#7bccc4" stroke-width="0.5"/>
<path d="M601.2,320 605.6,318.8 611.2,320.6 616.2,320.6 621.2,323.1 623.8,324.4 620.6,325.6 615,324.4 608.8,323.1 603.8,321.9Z" fill="#7bccc4" stroke="#7bccc4" stroke-width="0.5"/>
<path d="M626.2,325.6 630,324.4 630.6,325.6 626.9,326.5Z" fill="#7bccc4" stroke="#7bccc4" stroke-width="0.5"/>
<path d="M631.2,327.5 634.4,328.1 633.8,329.4Z" fill="#7bccc4" stroke="#7bccc4" stroke-width="0.5"/>
<path d="M633.1,325 640,324 639.4,325.2 633.8,326Z" fill="#7bccc4" stroke="#7bccc4" stroke-width="0.5"/>
<path d="M640.6,328.8 645,325.6 649.8,324.4 648.8,326 643.8,328.8 641.2,329.8Z" fill="#7bccc4" stroke="#7bccc4" stroke-width="0.5"/>
<path d="M609.4,301.2 611.9,299.4 615,301.2 620,300 624.4,296.2 626.2,293.1 628.8,292.5 630,296.2 629.4,300.6 631.2,301.2 628.8,304.4 627.5,308.8 625,313.1 620.6,313.1 616.9,311.2 612.5,310.6 611.2,306.2Z" fill="#7bccc4" stroke="#7bccc4" stroke-width="0.5"/>
<path d="M611.9,299.4 615,296.2 620,293.8 622.5,290.6 626.9,286.2 630,288.1 631.9,290 630,292.5 626.2,293.1 624.4,296.2 620,300 615,301.2Z" fill="#43a2ca" stroke="#43a2ca" stroke-width="0.5"/>
<path d="M589.4,286.2 591.9,285.6 595.6,290.6 598.1,296.2 598.8,300 596.2,299.4 592.5,295 590,290.6Z" fill="#43a2ca" stroke="#43a2ca" stroke-width="0.5"/>
<path d="M631.2,311.9 633.1,304.4 636.2,300.6 641.2,300 645.6,299.4 645,301.2 640,302.5 636.2,303.8 637.5,306.2 641.9,305 640.6,306.9 636.9,308.1 639.4,312.5 640.6,316.9 638.1,316.9 636.2,311.2 635,316.9 632.8,317.5Z" fill="#7bccc4" stroke="#7bccc4" stroke-width="0.5"/>
<path d="M651.2,298.8 653.1,298.5 654,301.9 652.5,305 651.5,302.5Z" fill="#7bccc4" stroke="#7bccc4" stroke-width="0.5"/>
<path d="M648.1,311.2 650,311.5 649.8,313.1 648.2,312.8Z" fill="#7bccc4" stroke="#7bccc4" stroke-width="0.5"/>
<path d="M652.5,310.6 656.2,311 658.5,312.8 655,312.2Z" fill="#7bccc4" stroke="#7bccc4" stroke-width="0.5"/>
<path d="M665.2,318.1 666.9,317.2 666.2,320.6Z" fill="#7bccc4" stroke="#7bccc4" stroke-width="0.5"/>
<path d="M660,305.6 665,304.8 666.2,308.1 663.8,309.4 665.6,312.5 668.8,311.9 671.9,308.8 675.6,307.5 681.9,310 680.6,326.2 676.2,324.4 673.1,324.4 675.6,320.6 672.5,316.9 668.8,314.4 664.4,313.8 661.9,310Z" fill="#7bccc4" stroke="#7bccc4" stroke-width="0.5"/>
<path d="M665,318.1 666.5,317.2 666.2,320.6 665,321Z" fill="#7bccc4" stroke="#7bccc4" stroke-width="0.5"/>
<path d="M681.9,310 690,313.1 693.8,316.9 696.2,320 694.4,321.9 697.5,325.6 701.2,329.4 700,330.6 695.6,328.8 692.5,325.6 688.8,323.8 685,326.9 680.6,326.2Z" fill="#a8ddb5" stroke="#a8ddb5" stroke-width="0.5"/>
<path d="M697.5,318.1 701.2,316.9 704.4,315 706.9,313.1 703.8,310 705,309.8 708.5,313.1 706.2,316.2 702.5,318.8 698.8,319.8Z" fill="#a8ddb5" stroke="#a8ddb5" stroke-width="0.5"/>
<path d="M711.2,316.2 713.1,318.8 715,320.6 713.1,320.6 711.2,318.1Z" fill="#7bccc4" stroke="#7bccc4" stroke-width="0.5"/>
<path d="M719.4,322.2 722.5,323.8 721.9,324.8 719.4,323.1Z" fill="#7bccc4" stroke="#7bccc4" stroke-width="0.5"/>
<path d="M724.4,325 726.2,327.5 725.6,328.8 724,326.2Z" fill="#7bccc4" stroke="#7bccc4" stroke-width="0.5"/>
<path d="M721.9,327.2 725,328.8 727.5,330.2 726.9,331 722.5,328.5Z" fill="#7bccc4" stroke="#7bccc4" stroke-width="0.5"/>
<path d="M735,340.6 736.5,341.2 737.5,345 736.2,345.6Z" fill="#7bccc4" stroke="#7bccc4" stroke-width="0.5"/>
<path d="M757.5,348.1 760,346.9 764.4,344.4 765,345.6 761.2,347.8 758.8,350Z" fill="#7bccc4" stroke="#7bccc4" stroke-width="0.5"/>
<path d="M726.2,354.4 728.1,354 732.2,359.4 731.2,360.6Z" fill="url(#hatch2)" stroke="#d0d0d0" stroke-width="0.4"/>
<path d="M631.9,256.9 635,256.2 636.2,260.6 635,265 636.9,267.5 640.6,268.1 645,272.5 645.6,275 642.5,273.1 638.8,270 635,269.4 633.1,266.9 631.2,262.5Z" fill="#7bccc4" stroke="#7bccc4" stroke-width="0.5"/>
<path d="M636.9,273.1 639.4,274.4 640.6,276.9 642.5,275 644.4,276.9 641.9,280 639.4,278.8 637.5,276.2Z" fill="#7bccc4" stroke="#7bccc4" stroke-width="0.5"/>
<path d="M638.1,283.8 641.9,281.9 645,278.8 647.5,280.6 648.8,285 646.9,288.8 644.4,288.1 643.1,285 640,286.2Z" fill="#7bccc4" stroke="#7bccc4" stroke-width="0.5"/>
<path d="M630,277.5 631.9,275 632.2,276.2 630.6,278.8Z" fill="#7bccc4" stroke="#7bccc4" stroke-width="0.5"/>
<path d="M614,361 620,357 628,353 635,348 640,343 647,339 654,337 660,333 664,334 669,334 667,339 671,344 676,348 679,342 681,335 683,331 686,338 688,346 693,354 697,362 699,370 697,378 693,385 688,391 682,397 676,400 669,402 662,401 659,397 657,392 658,388 654,392 651,386 645,384 638,386 630,388 622,390 614,392 609,390 612,384 613,376 612,369Z" fill="#0868ac" stroke="#0868ac" stroke-width="0.5"/>
<path d="M663,408 670,407 668,411 663,414 661,412Z" fill="#0868ac" stroke="#0868ac" stroke-width="0.5"/>
<path d="M731,391 733,395 738,399 734,403 729,406 725,409 724,407 728,403 731,399Z" fill="#0868ac" stroke="#0868ac" stroke-width="0.5"/>
<path d="M722,407 720,410 714,414 708,418 702,421.6 698,420 702,417 709,413 716,409Z" fill="#0868ac" stroke="#0868ac" stroke-width="0.5"/>
<path d="M380,111.3 387.5,110 402.5,110.5 397.5,113 390,112.5 387.5,115.5 382.5,113.8Z" fill="#0868ac" stroke="#0868ac" stroke-width="0.5"/>
<path d="M19.3,253.5 21,251.8 22.6,253.3 20.5,255.2Z" fill="#0868ac" stroke="#0868ac" stroke-width="0.5"/>
<path d="M17.8,249.6 18.8,249.8 18.6,250.6 17.8,250.4Z" fill="#0868ac" stroke="#0868ac" stroke-width="0.5"/>
<path d="M15.9,248.3 16.8,248.5 16.6,249.2Z" fill="#0868ac" stroke="#0868ac" stroke-width="0.5"/>
<path d="M13,246.9 13.7,247 13.5,247.6Z" fill="#0868ac" stroke="#0868ac" stroke-width="0.5"/>
<path d="M309.5,260 310.5,260.2 310.3,261.2Z" fill="#43a2ca" stroke="#43a2ca" stroke-width="0.5"/>
<path d="M311.5,262 312.4,262.2 312,263Z" fill="#43a2ca" stroke="#43a2ca" stroke-width="0.5"/>
<path d="M229,258 229.5,258.2 229.3,259Z" fill="#43a2ca" stroke="#43a2ca" stroke-width="0.5"/>
<path d="M230.2,262 230.7,262.2 230.5,263Z" fill="#43a2ca" stroke="#43a2ca" stroke-width="0.5"/>
<path d="M230,267 230.5,267.2 230.3,268Z" fill="#43a2ca" stroke="#43a2ca" stroke-width="0.5"/>
<path d="M228.5,271 229.2,271.2 228.9,272Z" fill="#43a2ca" stroke="#43a2ca" stroke-width="0.5"/>
<path d="M461.8,333.3 462.9,333.6 462.5,334.6Z" fill="#7bccc4" stroke="#7bccc4" stroke-width="0.5"/>
<path d="M491,354.5 492.1,354.2 492.3,355.6 491.3,355.8Z" fill="#43a2ca" stroke="#43a2ca" stroke-width="0.5"/>
<path d="M408.3,153.3 414,152.3 416.6,151.6 416.2,153 412,154.3 408.3,155Z" fill="#fff" stroke="#fff" stroke-width="0.2"/>
<g fill="none" stroke="#6b7f93" stroke-opacity="0.9" stroke-width="0.5">
<path d="M515.8,210.4 515.4,214.2 514.2,217.5 512.5,220.8 509.6,222.9 507.5,225 507.1,227.5 501.7,228.3 497.9,228.8"/>
<path d="M136.2,130.6 111.9,151.9 115.6,152.5 120,153.1 121.2,157.5 121.9,162.5 120,165 121.2,170 121.2,175"/>
<path d="M122,179.4 177.5,179.5 183.8,181.3 192.5,182 197.5,187.5 196.9,192.5 194.4,196.9 198.8,195.6 203.8,193.8 212.5,190 221.2,187.5 228.1,184.4 229,183.5 228.1,187.5 230,190.6"/>
<path d="M187.5,297.5 195.6,303.8 193.1,310 186.2,315.6 182.5,314.4"/>
<path d="M195.6,303.8 200.6,308.8 206.9,310 208.1,314.4 201.2,316.9 198.8,321.9 201.9,327.5 206.2,330 209.4,331.9 211.2,336.2 210,341.2 209.4,349.4 213.1,355 214.4,360"/>
<path d="M209.4,331.9 217.5,328.8 220,334.4 227.5,336.9 230,342.5 234.4,345.6 236.9,350 236.9,355 232.5,352.5 227.5,353.8 226.2,360"/>
<path d="M208.1,314.4 206.9,310 207.5,301.2 211.9,298.8 212.5,292.5 211.2,288.1 206.2,286.2 203.1,285"/>
<path d="M211.9,298.8 215,301.2 220,298.8 219.4,293.8 227.5,291.2 229.4,288.8 230,297.5 233.1,300 236.9,298.1 243.1,296.9 246.9,296.2"/>
<path d="M234.4,289.4 233.8,293.8 236.9,298.1"/>
<path d="M242.5,289.4 243.1,296.9"/>
<path d="M204.4,271.9 201.2,276.2 200.6,281.9 203.8,285 208.8,287.5 212.5,288.8 211.9,293.8 213.8,297.5"/>
<path d="M228.1,276.2 228.1,282.5 226.2,287.5 227.5,290.6 220,293.1"/>
<path d="M216.2,362.5 218.1,359.4 223.8,360.6 226.2,357.5 227.5,353.8 231.9,352.5 235.6,354.4 237.5,358.8 241.9,361.2 243.8,366.2 246.2,369.4 243.8,373.1 238.8,373.1 236.9,370.6 237.5,367.5 233.1,365 228.8,363.8 226.2,360.6"/>
<path d="M226.2,357.5 231.2,352.5 235,346.2 236.2,345"/>
<path d="M246.2,369.4 247.5,371.9 243.8,376.2 240.6,380.6"/>
<path d="M361.2,213.1 361.9,220 355,223.8 350,227.5 345.6,230.6 345,233.5"/>
<path d="M381.2,209.4 380.6,216.2 383.1,221.2 385,226.2 386.9,222.5 389.4,218.8"/>
<path d="M385,226.2 386.2,231.9 385.6,237.5 390,244.4"/>
<path d="M418.8,223.1 418.1,230 419,247.5"/>
<path d="M397.5,245.2 399.4,248.1 398.8,257.5 396.2,263.8 394.4,268.8 396.9,273.1 396.2,278.8"/>
<path d="M372.5,271.9 375,268.8 380,269.4 387.5,270 394.4,268.8"/>
<path d="M366.2,265.6 368.8,270.6 372.5,271.9 373.1,280"/>
<path d="M326.9,263.1 330,261.2 332.5,261.9 336.9,262.5 338.8,264.4 338.8,267.5 337.5,270 332.5,271.2 327.5,270"/>
<path d="M338.8,267.5 341.2,270 345,273.1 348.1,275 350,277.5"/>
<path d="M346.2,277.5 346.9,286.2 348.1,292.5"/>
<path d="M358.1,276.2 357.2,283.8 357.8,290"/>
<path d="M365,276.2 365.2,288.8"/>
<path d="M366.9,277.5 366.9,288.8"/>
<path d="M335.6,278.8 340,285 342.5,280 345,282.5 346.2,277.5"/>
<path d="M385.6,298.1 390,297.5 396.9,298.1 400,295 405,294.4 403.1,301.2 400.6,307.5 397.5,312.5 393.1,315.6 391.9,317.5"/>
<path d="M390,297.5 395,300 396.9,303.8 395.6,307.5 392.5,310 390,312.5"/>
<path d="M385.6,300 388.8,300 389,297.8"/>
<path d="M433.8,293.8 431.9,300 431.2,306.2 430,311.2 431.2,317.5 431.9,324.4 437.5,326.2 440,328.8"/>
<path d="M441.2,293.1 443.1,298.8 440.6,305 431.9,306.2"/>
<path d="M440.6,305 447.5,310 453.1,315"/>
<path d="M430,311.2 433.1,311 433.8,314.4 431.2,317.5"/>
<path d="M413.8,326.2 420,325 423.8,328.8 427.5,326.9 431.9,324.4"/>
<path d="M418.1,331.9 425,335 428.8,325 432.5,325 436.2,326.2 440,328.8 438.8,333.8 437.5,338.8 435,340 430,343.1 425,345.6 420,349.4"/>
<path d="M430,343.1 435,344.4 436.9,348.8 436.2,356.2 433.1,360.6"/>
<path d="M439.4,329.4 441.2,333.8 443.1,338.8 442.5,344.4 440,340.6 438.8,333.8"/>
<path d="M441.2,333.8 447.5,332.5 454.4,330"/>
<path d="M435,340 438.8,341.2 440,340.6"/>
<path d="M428.1,330 430,332.5 429.4,336.9 426.9,332.5"/>
<path d="M383.1,154.4 386.2,151.2 385.6,145 390,138.8 393.8,133.8 400,130.6 405,132.5 407.5,130"/>
<path d="M405,132.5 404.4,136.9 407.5,140.6"/>
<path d="M405,132.5 410,130.6 412.5,133.8"/>
<path d="M408.1,156.2 415,156.9"/>
<path d="M405,160 410,159.4 416.2,160.6"/>
<path d="M405,163.8 410,165 413.8,163.1 416.2,160.6 415.6,156.9 415,152.5"/>
<path d="M416.2,160.6 421.2,163.8 425,168.8 423.1,172.5 430,173.8 436.2,176.2 442.5,178.1 443.8,182.5 440,185"/>
<path d="M409.4,167.5 410,173.8 417.5,172.5 423.1,172.5"/>
<path d="M391.9,165 392.5,170 391.2,173.8 396.2,175 402.5,177.5 408.1,176.9"/>
<path d="M391.2,173.8 389.4,176.2 392.5,178.1 396.2,178.8"/>
<path d="M377.5,167.5 376.2,170 377.5,172.5 376.2,176.2 372.5,175 370.6,171.9"/>
<path d="M377.5,172.5 380,173.8 377.5,177.5 379.4,181.2"/>
<path d="M381.2,166 383.1,165"/>
<path d="M346.2,198.8 350.6,198.1 351.2,202.5 349.4,206.2 349.4,209.4"/>
<path d="M361.9,194.4 366.9,195 370.6,195"/>
<path d="M377.5,181.2 380,183.8 378.8,187.5 380,190 381.9,191.2"/>
<path d="M377.5,181.2 382.5,180 387.5,181.2 386.2,183.8 381.2,184.4 380,183.8"/>
<path d="M387.5,181.2 391.2,179.4 396.2,178.8 397.5,181.9 396.2,183.8 391.2,184.4 387.5,183.8 386.2,183.8"/>
<path d="M389.4,175.6 392.5,177.5 396.2,178.8 400,178.1 398.8,175.6 393.8,173.8 389.4,175.6"/>
<path d="M400,178.1 402.5,177.5 408.1,180"/>
<path d="M396.9,181.9 400,180.6 406.2,180 408.1,182.5 405,185.6 400,186.2 396.9,185"/>
<path d="M406.2,180 411.2,179.4 416.2,180 421.2,183.8 422.5,186.9 421.9,190 416.2,190.6 411.2,191.2 407.5,189.4 405,185.6"/>
<path d="M416.2,180 420,178.8 421.9,181.2 422.5,185"/>
<path d="M411.2,191.2 410.6,193.8 412.5,196.2 417.5,196.2 421.2,195.6 421.9,190"/>
<path d="M400,186.2 400,189.4 402.5,191.9 405,195 408.1,196.9 410.6,193.8"/>
<path d="M395.6,186.2 400,189.4"/>
<path d="M397.5,191.2 401.2,193.1 402.5,191.9"/>
<path d="M405,200.6 408.1,198.8 412.5,196.2"/>
<path d="M408.1,196.9 408.1,198.8"/>
<path d="M460,275 463.1,279.4 468.1,281.9 471.2,283.8 466.2,289.4 460,292.5"/>
<path d="M441.2,278.8 439.4,284.4 443.1,289.4"/>
<path d="M418.1,280.6 421.9,286.2 425,289.4"/>
<path d="M397.5,285 406.2,281.2 411.2,278.8 415,275.6"/>
<path d="M370.6,275 370,282.5 370.6,288.1"/>
<path d="M463.1,185.6 458.8,183.1 456.2,179.4 456.9,175.6 461.2,172.5 466.2,172.5 471.2,173.8 477.5,173.1 481.9,174.4 483.1,172.5 480,170 481.2,166.9 487.5,165 495,163.1 498.8,165.6 502.5,166.2 505,168.1 508.8,165.6 513.8,169.4 518.8,173.1 525,175 530,176.9 535.6,178.8"/>
<path d="M477.5,198.1 477.5,188.8 482.5,187.5 485.6,189.4 490,192.5 496.2,191.9 500,193.8 502.5,198.1 506.2,199.4 510,196.2 515,193.8 521.2,193.1 528.1,194.4"/>
<path d="M478.1,198.1 481.2,196.2 483.8,194.4 487.5,195.6 492.5,201.2 498.8,203.8 505,206.9 507.5,208.8"/>
<path d="M476.9,208.1 481.2,206.2 486.2,206.9 491.2,210 495,213.1"/>
<path d="M507.5,208.8 506.2,203.8 510,202.5 513.8,203.8 518.8,203.8 521.2,207.5"/>
<path d="M506.2,199.4 511.2,198.1 515,199.4 520,200 527.5,194.4"/>
<path d="M527.5,194.4 526.2,198.1 522.5,200 520,202.5 518.8,203.8"/>
<path d="M450,196.9 453.1,198.8 456.2,201.2 457.5,205 456.9,208.8 453.1,210.6 448.8,211.9 443.8,213.1 440,212.5 438.8,210.6"/>
<path d="M448.1,194.4 452.5,195.6 457.5,196.2 461.2,198.8 463.1,197.5"/>
<path d="M456.2,201.2 460,200.6 461.9,203.8 459.4,205 457.5,205"/>
<path d="M461.2,198.8 462.5,202.5 467.5,205"/>
<path d="M440.6,220 445,220.6 448.1,218.8"/>
<path d="M440,227.5 443.1,226.2 446.2,223.8 444.4,221.2 448.1,218.8"/>
<path d="M464.4,228.8 466.9,227.2 468.1,229.4"/>
<path d="M537.5,180 553.8,172.5 565,175 575,177.5 586.2,178.8 593.8,180"/>
<path d="M500,166.2 510,167.5 517.5,172.5 525,175 532.5,177.5 537.5,180"/>
<path d="M625,198.8 631.2,196.2"/>
<path d="M628.8,205.5 633.8,204.5"/>
<path d="M565,231.2 563.8,232.5 563.8,235 566.2,239.4"/>
<path d="M592.5,245 588.8,246.9"/>
<path d="M593.1,270.6 595,266.9 599.4,266.2 600,267.5 603.8,266.9"/>
<path d="M480,255 485.6,251.9 487.5,247.5 485.6,244.4"/>
<path d="M475.6,237.5 477.5,240.6 478.8,244.4"/>
<path d="M53.5,165.6 65,161.9 71.2,157.5 70,153.8 69.4,151.2 72.5,148.1 80,145.6 86.2,143.1 88.1,141.2 80,141.9 79.4,140 88.8,137.8 91.2,138.1 90.6,133.8 97.5,131.2 106.2,128.8 115,127.5 125,129.4 136.2,130.6 146,131.2 145,132 155,130.5 166,129.5 172,132 176,133.8 185,134.4 196,134.4 206,133 210,129.4 215,127 218.5,128.5 222.5,126.9 227.5,123.8 235,123.1 245,125 252.5,128.8 256.3,133.8 260.6,137.2 257.5,140 253.1,140.6 251.3,144.4 248.5,147.5 248.8,151.9 250,157.5 252.5,161.9 256.2,165 258.1,168.8 256.9,172.5 252.5,173.8 247.5,176.2 240,176.9 235,178.1 237.5,178.1 236.2,183.1 238.8,186.2 243.1,185 243.8,186.9 238.8,189.4 233.8,190.6 230.6,192.5 230,191.2 232.5,188.8 228.8,190 225,191.9 221.2,194.4 220,196.9 216.9,198.8 211.9,201.2 208.1,204.4 205.6,210 205,207.5 202.5,212.5 196.2,217.5 191.2,221.9 189,226.2 189.4,231.2 189.8,236.2 188.1,239 186.2,235 185,231.2 184,227.8 181.2,227.8 177.5,226.5 172.5,226.9 169.4,229 165,227.8 159.4,228.8 155,231.2 152.5,233.8 151.9,236.9 149.4,235 146.9,231.2 143.8,227.5 140,228.1 136.2,224.4 132.5,222.8 126.2,223.1 118.8,221.2 113.1,219.6 109.4,215.6 108.1,211.2 106.9,205 107.5,200 109,197 112.5,190 116.3,182.5 120,183.1 121.9,178.8 118.8,173.8 118.1,167.5 118.8,158.1 115,155 107.5,152.5 102.5,150.6 97.5,150 90,153.1 78.8,158.1 67.5,163.1Z" stroke-opacity="0.45"/>
<path d="M113.1,219.6 118.8,221.2 126.2,223.1 132.5,222.8 136.2,224.4 140,228.1 143.8,227.5 146.9,231.2 149.4,235 151.9,236.9 150.6,241.2 150,247.5 151.9,253.1 155,256.5 160,256.2 163.8,253.8 165.6,250 169.4,248.8 173.1,248.8 171.2,253.8 169.4,258.1 166.9,258.8 162.5,259.4 162.5,262.5 160,263.8 159.4,265.2 153.8,261.9 149.4,263.8 142.5,260.6 135,256.2 131.2,252.5 131.9,247.5 128.1,240 124.4,233.8 121.2,227.5 120.6,223.1 118.8,222.8 117.5,224.4 118.8,230 121.2,236.2 123.8,243.1 123.1,245 118.8,238.8 114.4,233.1 115,226.2Z" stroke-opacity="0.45"/>
<path d="M162.5,259.4 166.9,258.8 166.9,262.5 165,265 166.2,266.5 163.8,268.5 160,266.5 160,263.8 162.5,262.5Z" stroke-opacity="0.45"/>
<path d="M178.1,246.9 182.5,245 187.5,245.6 192.5,248.1 197.5,250.6 200,252.5 195,252.5 191.2,250 186.2,247.5 181.2,247.2Z" stroke-opacity="0.45"/>
<path d="M166.2,126.2 173.8,122.5 182.5,123.1 188.8,125 195,124.4 201.2,126.9 202.5,130.6 196.2,132.2 185,131.9 176.2,132.2 175,128.5 168.8,127.8Z" stroke-opacity="0.45"/>
<path d="M182.5,116.9 191.2,115 201.2,115.6 205,118.1 201.2,120 192.5,120.6 185,118.8Z" stroke-opacity="0.45"/>
<path d="M206.2,122.8 212.5,121.5 218.8,122.5 220,125 215,126.2 210,128.1 207.5,125.6Z" stroke-opacity="0.45"/>
<path d="M211.3,118.8 215,112.5 225,112.5 231,109.4 241,107.5 255,105.6 269,105.5 281,106 272.5,108.2 262.5,110.8 256,112.7 250,114 247.5,115 242.5,120.6 235,120.6 227.5,118.8 220,121.3 213.8,120.6Z" stroke-opacity="0.45"/>
<path d="M247.5,181.9 252.5,175.6 255.6,173.8 256.9,176.9 259.4,178.1 260,182.5 258.1,184.4 256.2,182.5 253.8,184.4 250.6,182.5Z" stroke-opacity="0.45"/>
<path d="M325,140.5 328,138.5 333,138 338,138.3 341,140 340,142.5 336,144 331,144.3 327,143Z" stroke-opacity="0.45"/>
<path d="M57.5,141.2 61.2,138.1 70,133.1 73.1,136.9 76.9,137.5 76.2,139.4 71.2,140 66.9,142.5 63.1,140Z" stroke-opacity="0.45"/>
<path d="M76.9,128.1 81.9,126.9 81.2,127.9 77.5,128.8Z" stroke-opacity="0.45"/>
<path d="M66.2,144.4 70,145 69.4,145.8 66.5,145Z" stroke-opacity="0.45"/>
<path d="M64.4,152 67.5,151.9 67.2,152.9 64.8,152.9Z" stroke-opacity="0.45"/>
<path d="M79.4,159.4 84.4,157.2 84.8,158.5 80,160.2Z" stroke-opacity="0.45"/>
<path d="M111.5,167.5 113.8,166.5 113.1,170.6 111.5,171Z" stroke-opacity="0.45"/>
<path d="M166.9,258.8 168.8,259.4 168.5,263.1 172.5,262.8 178.1,264.4 179.4,265.6 178.8,267.5 178.1,272.5 176.9,276.2 175,275 172.5,275.6 170.6,271.9 167.5,269.4 164.4,268.1 165.6,264.4 166.9,261.9Z" stroke-opacity="0.45"/>
<path d="M172.5,275.6 175,275 176.9,276.2 177.8,277.2 179.4,280 178.1,281.9 175.6,280 173.1,278.1Z" stroke-opacity="0.45"/>
<path d="M178.1,281.9 179.4,280 182.5,281.9 186.2,279.4 189.4,280 190.6,283.1 189.4,284.4 186.9,281.9 183.8,284.4 181.2,283.5Z" stroke-opacity="0.45"/>
<path d="M191.2,256.9 194.4,256.5 195,257.8 191.9,258Z" stroke-opacity="0.45"/>
<path d="M199.4,256.5 202.5,255.6 203.1,253.8 205.6,253.8 206.2,257 203.8,257.6 200,257.4Z" stroke-opacity="0.45"/>
<path d="M205.6,253.8 209.4,253.5 212.5,255.6 211.2,257 206.2,257.2Z" stroke-opacity="0.45"/>
<path d="M193.1,240 194.1,239.8 194.6,242.5 193.6,242.8Z" stroke-opacity="0.45"/>
<path d="M193.8,235.2 196.5,235.6 196.8,236.8 196,236.5 194,236Z" stroke-opacity="0.45"/>
<path d="M190.6,283.1 191.2,278.8 196.2,275 200,274.4 204.4,271.9 205.6,273.8 207.5,273.8 211.2,275 215,276.9 220,276.9 225,276.2 228.1,276.2 227.5,278.1 230,281.2 235,286.2 240,288.8 243.1,289.4 245.6,288.8 248.1,292.5 250,293.8 251.9,298.8 251.2,302.5 255,304.4 260,306.2 265,309.4 271.2,310 277.5,311.9 282.5,315.6 285.6,317.5 286.5,322.5 285,327.5 281.9,332.5 278.8,337.5 277.5,342.5 276.9,350 278.1,350 275.6,355 273.1,360.6 265,364.4 260,367.5 258.1,371.9 258.8,376.2 255,382.5 251.2,388.1 248.8,391.9 243.8,391 240,388.8 241.9,391.9 245,395 245,398.8 240,401.9 235,403.1 236.2,406.9 233.1,408.8 234.4,411.2 232.5,415 232.5,415 230,418.5 231,422 234,424 233,429 231,433 233,435.5 237,439.5 242,442 237,443.8 229,441.5 223,438 218.5,433 215.5,427 214,421 213.5,416 214,412 212.5,406 210.5,400 210,398.8 211.2,392.5 210.6,383.8 209.4,376.2 210,367.5 210.6,360 210,352.5 210.6,355 208.8,349.4 201.2,345 195,340 191.2,332.5 186.9,325 183.1,320 181.9,315 184.4,311.2 182.5,308.8 183.8,302.5 187.5,297.5 190.6,292.5 190.6,285Z" stroke-opacity="0.45"/>
<path d="M208.8,349.4 210.6,355 210,352.5 210.6,360 210,367.5 209.4,376.2 210.6,383.8 211.2,392.5 210,398.8 210.5,400 212.5,406 214,412 213.5,416 214,421 215.5,427 218.5,433 223,438 229,441.5 237,443.8 238,442 234,440 231,439 231,436.5 230,435.5 224,433 221.5,429 222,423 220,416 217,408 216.5,400 215.6,395 214.4,386.2 213.1,377.5 214.4,368.8 216.2,362.5 213.1,356.2 209.4,348.8Z" stroke-opacity="0.45"/>
<path d="M240.6,380.6 245,382.5 250,385.6 251.2,388.1 248.8,391.9 243.8,391 240,388.8 240,383.8Z" stroke-opacity="0.45"/>
<path d="M413.8,130 420,131.3 426,132.5 431,134.4 433,136.9 431,138.8 426,138 421,138 425,140 427.5,143 431,141 433,138.8 437,138 438,136 436,133.8 439.4,133.8 442,136 444,135.6 448.8,133.8 452.5,132.8 457.5,133.5 462.5,131.9 465,130.6 470,131.3 474,132.5 477.5,133.8 478,132.5 474,130.6 471,128 472.5,124.4 477.5,124.4 480.5,127 481,124.4 485,126.9 487.5,125 492.5,126.3 490,122.5 496,121.9 497.5,119.4 505,117.5 512.5,115.6 516,115 525,116.2 532.5,117.5 535,121.2 545,122.5 555,123.8 565,123.8 572.5,127 580,125 585,126.2 592.5,125 605,127 617.5,128 625,130.5 635,132 645,131.2 652.5,129.5 660,133.8 667.5,138.8 675,143.8 678.8,146.2 672.5,148.8 667.5,152.5 662.5,153.8 660,156.2 666.2,160 670,166.2 668.8,173.8 662.5,168.8 657.5,162.5 653.8,157.5 655,152.5 652.5,148.8 648.8,147.5 646.2,151.2 642.5,153.8 641.2,150 632.5,153.8 625,156.2 620,162.5 619.5,164.5 627.5,166.2 635,168.8 638.8,175 641.2,182.5 640,188.8 636.2,193.8 631.2,196.2 633.8,200 630,203.8 633.8,204.5 637.5,210 636.2,214.5 632,215.5 630,210 628.8,205.5 627.5,205 623.8,202.5 618.8,203.8 613.8,200 610,205 616.2,207.5 620,211.2 618.8,216.2 622.5,222.5 627.5,228.8 628.8,230 626.9,235 623.8,240 620,243.8 615,246.2 610,248.1 608.1,251.2 607.5,248.8 605,249.4 601.2,248.8 598.1,251.2 599.4,255 602.5,259.4 605.6,263.1 608.1,267.5 608.8,272.5 605,276.9 600.6,281.2 598.8,278.1 595.6,275 593.1,270.6 591.2,271.2 588.8,269.4 587.5,272.5 588.1,277.5 590,282.5 592.5,286.2 592,286 595.6,290.6 598,296 598.8,300 596,299.4 592.5,295 590,290.6 588.8,286 585.6,282.5 585,277.5 585.6,271 584.4,273.1 583.1,268.8 581.2,263.8 578.1,263.1 575,262.5 573.8,256.9 571.2,252.5 568.8,248.8 567.5,245.6 563.1,246.9 560.6,246.2 556.9,249.4 553.1,253.1 548.8,258.1 544.4,263.1 542.5,267.5 543.1,275 540.6,280 538.8,283.1 536.2,278.8 533.1,272.5 530,265 527.5,258.8 526.2,255 525,250 522.5,250.6 520,250 517.5,246.9 515,243.1 512.5,241.2 510,239 500,239.8 495,239.8 490,238.8 488.1,235 485,235.6 481.2,237.5 477.5,235.6 475,231.9 472.5,226.9 470.6,225.6 468.8,227.5 469.4,229.4 472.5,234.4 475.6,237.5 476.2,241.2 478.1,242.5 482.5,241.2 486.2,237.5 487.5,236.5 488.1,238.1 490,241.2 493.8,245 495.6,248.1 491.2,255 487.5,258.8 481.9,260.6 477.5,264.4 471.2,267.5 465,270 461.9,271.9 461.2,271.9 460.6,268.1 458.8,261.2 454.4,254.4 450,247.5 445,240 440,231.9 439.4,229.3 440,222.9 440.4,219.2 441.3,215 440.8,211.3 439.2,210.4 436.7,210.8 433.3,212 430,210.8 426.7,211.3 423.3,210.4 420.8,208.3 420,205.8 419.2,202.9 420,200.8 417.9,200.8 415.8,200.4 413.3,201.3 412.5,202.9 414.2,205 414.6,207.5 413.3,206.7 412.9,209.2 411.7,210.4 410,209.2 407.9,206.7 405.8,203.8 405,201.7 404.2,199.2 401.7,196.7 398.3,193.8 395,190.4 392.5,187.5 390,188.3 390.8,191.3 393.3,194.2 396.7,196.7 400,198.8 402.5,200.8 401.7,202 399.6,201.7 400,203.3 398.8,205 397,206.7 396.2,205 396.7,202.5 393.3,199.6 390,196.7 387.5,193.8 385,191.3 381.7,190.4 378.8,193 375,193.8 370.6,195 366.9,199.4 364.4,203.8 362.5,207.5 358.8,210 353.8,210.6 351.9,211.9 349.4,209.4 346,208.8 345,203.8 346,198.8 346,194.4 351,193 357.5,193.8 361.9,194.4 362.5,189.4 361.9,185 358.8,182.5 355.6,180.6 361,177.5 367,176.9 370.6,173.8 373.8,170 377.5,168 381,166 384,165.5 387.5,166.9 392,167.5 398.8,165.6 403.8,166 408.8,166.9 403.5,165 404,162 406,160.5 404,159 405,156 408,154.5 412,153.3 416.5,151.5 419.5,146.5 417,142 415.5,138 413.5,134 415,130.5 413.5,129Z" stroke-opacity="0.45"/>
<path d="M355.6,180.6 361,177.5 367,176.9 370.6,173.8 373.8,170 377.5,168 381,166 384,165.5 387.5,166.9 392,167.5 398.8,165.6 403.8,166 408.8,166.9 409.4,170.6 408.8,176.9 406,180 401.9,180.6 397.5,181.9 396,183.8 395.6,186 392,187.5 390,188.3 390.8,191.3 393.3,194.2 396.7,196.7 400,198.8 402.5,200.8 401.7,202 399.6,201.7 400,203.3 398.8,205 397,206.7 396.2,205 396.7,202.5 393.3,199.6 390,196.7 387.5,193.8 385,191.3 381.7,190.4 378.8,193 375,193.8 370.6,195 366.9,199.4 364.4,203.8 362.5,207.5 358.8,210 353.8,210.6 351.9,211.9 349.4,209.4 346,208.8 345,203.8 346,198.8 346,194.4 351,193 357.5,193.8 361.9,194.4 362.5,189.4 361.9,185 358.8,182.5Z" stroke-opacity="0.45"/>
<path d="M373.5,148.5 374,153 376.5,156.5 380,156 384,154 385.5,157 387,160 389,162.5 391,163.5 394,161 395.5,157 397.5,153 395.5,150 396,147 399,144 401,141 404,139 407,140 405,143 402.5,145 402.5,148.5 405,151.5 409,152.5 414,151.5 416.5,150 419.5,146.5 417,142 415.5,138 413.5,134 415,130.5 413.5,129 409,128 404,128.5 399,130 394,132.5 390,136 386,140 382,143.5 378,145.5Z" stroke-opacity="0.45"/>
<path d="M380,159.5 382,158.5 384,159 383.5,162 384.3,165.8 380.8,166.2 380,163Z" stroke-opacity="0.45"/>
<path d="M385.5,162.5 388,162.2 387.8,164 385.8,164Z" stroke-opacity="0.45"/>
<path d="M353.5,157 356,156 359,156.5 358,159 360.5,159.5 360,162.5 362.5,165 364,168 367,170 367.5,172 365.5,173.5 361,174 357,175 354,176.5 354.5,175 357.5,173 355,172 356,169.5 358,169 357,166.5 355.5,164 355,161.5 353.5,159.5Z" stroke-opacity="0.45"/>
<path d="M346,168 348,165.5 351,164 353,165 353.5,167.5 352,170 349,171.5 346,172 345,170.5Z" stroke-opacity="0.45"/>
<path d="M390.8,207 393.8,206.5 397,206.9 396.3,209.2 393.3,208.8Z" stroke-opacity="0.45"/>
<path d="M381.8,199.6 383.8,199.2 384.2,202.9 382.5,203.8Z" stroke-opacity="0.45"/>
<path d="M382.3,195 383.5,194.3 383.8,197.5 382.5,197.7Z" stroke-opacity="0.45"/>
<path d="M433.3,214.2 435.4,212.9 437.5,212.3 436.7,213.8 434.6,215Z" stroke-opacity="0.45"/>
<path d="M414.2,212.9 419.6,213.5 419.2,214.3 415.8,214.2Z" stroke-opacity="0.45"/>
<path d="M446.2,126.2 447.5,122.5 450,119.4 457.5,116.9 465.6,116 465.6,117.2 458.8,118.8 453.8,121.2 451.9,125 456.2,128.1 451.2,128.1Z" stroke-opacity="0.45"/>
<path d="M426.9,109 435.6,108.8 431.9,110.2Z" stroke-opacity="0.45"/>
<path d="M491.2,109.4 496.2,108.5 505,111.2 506.2,112.5 500,112.5 493.8,111Z" stroke-opacity="0.45"/>
<path d="M508.1,111.9 516,112.5 515,113.8 508.8,113.8Z" stroke-opacity="0.45"/>
<path d="M570,118 580,117.5 591.2,119.5 582.5,120.5 575,120Z" stroke-opacity="0.45"/>
<path d="M633.8,166.3 637,168.5 641,172.5 644.3,175.9 648.4,178.7 646.6,179.6 646.1,181.9 650.3,184.6 649.3,186 646.6,183.2 644.3,180 642.5,177.3 639,174.5 636,171.5Z" stroke-opacity="0.45"/>
<path d="M650.3,188.3 653.5,190.1 656.7,191.9 659,190.6 660.5,192.9 658,193.8 657.6,196.1 654.4,195.6 653.5,197.9 651.2,196.5 650.3,193.8 652.1,192.9Z" stroke-opacity="0.45"/>
<path d="M653.9,199.3 655.8,198.4 658.5,201.1 659.9,204.3 659.9,208 661.7,211.2 661.3,213.9 659,215.3 656.2,214.8 653.9,217.6 652.1,215.8 649.3,216.2 646.6,217.1 644.3,218 641.6,218.5 642.5,217.1 645.2,213.9 648.9,212.5 651.6,212.1 651.6,208.9 653.9,207.5 655.3,204.3 654.8,201.6Z" stroke-opacity="0.45"/>
<path d="M641.6,219 643.4,219 644.3,220.3 646.1,221.7 646.6,223.5 644.8,224.5 643.9,222.2 642,220.8Z" stroke-opacity="0.45"/>
<path d="M647.1,218 650.3,217.1 651.2,218.5 648.4,219.9Z" stroke-opacity="0.45"/>
<path d="M352.5,213 356,212.5 361,213 366,210.6 373.8,209.8 381,209.4 386,208.8 387.5,212.5 386,215.6 389.4,218.8 392.5,220.6 398.8,221.9 405,225 407.5,222.5 410,220.6 415,220.6 418.8,223 425,223.8 431,223 433.8,223.8 434.5,227.8 436.8,231.5 439,235.3 440.9,239 442.4,242.8 443.8,246 446.9,253.8 450.6,260 455,266 458.8,271 460.6,274.4 461.9,276.2 467.5,275.6 473.8,274 478.5,273.1 478.8,277.5 476.9,283.8 473.1,290.6 467.5,297.5 461.9,303.8 457.5,308.8 454.4,313.1 452.5,317.5 453.1,323.8 455,330 454.4,329.4 455,335 453.8,341.2 450,346.9 445,351.9 441.9,356.2 443.1,362.5 440,365.6 435.6,366.9 436.2,370 434.4,375 430,381.2 425,386.9 420,389.4 412.5,390 406.2,392.2 403.8,387.5 401.9,381.2 398.1,372.5 396.2,363.8 393.8,355 390.6,348.1 390.6,345 392.5,336.2 394.4,327.5 393.1,320 393,322.5 391.9,317.5 389.4,313 386,308.8 384.4,305.6 385.6,300 385.6,295 383.8,292.5 378.8,293 376,291.9 373.8,288.8 368.8,288 365,289.4 360.6,291 357.5,290 352.5,290.6 348,292.5 345,291 340,286 335,281 331,276 327.5,271.9 326,266 326.9,263 328,255 326.9,248.8 330,241 333.8,236 336.9,233 341,229.4 343.8,225.6 345,220.6 348.8,216.9Z" stroke-opacity="0.45"/>
<path d="M352.5,213 356,212.5 361,213 366,210.6 373.8,209.8 381,209.4 386,208.8 387.5,212.5 386,215.6 389.4,218.8 392.5,220.6 398.8,221.9 405,225 407.5,222.5 410,220.6 415,220.6 418.8,223 425,223.8 431,223 433.8,223.8 438.8,223.8 439.4,229.3 440,231.5 438.5,231.5 436.5,229.5 434.5,227.8 436.8,231.5 439,235.3 440.9,239 442.4,242.8 443.8,246 444.5,247.5 431,247.5 419,247.5 417.5,253.1 399.4,244.4 397.5,245.2 390,244.4 379.4,250.6 372.5,254.4 362.5,246.9 351.2,239 345,234 345,233.5 336.9,233.5 341,229.4 343.8,225.6 345,220.6 348.8,216.9Z" stroke-opacity="0.45"/>
<path d="M326.9,248.8 335,248.8 336.2,242.5 337.5,237.2 345,236.9 345,234 351.2,239 351.9,263.8 338.8,264.4 336.9,262.5 332.5,261.9 330,261.2 327.5,263.1 328.1,255Z" stroke-opacity="0.45"/>
<path d="M328,272 333,270.5 339,271 344,270 346,275 345,282.5 342.5,280 340,277.5 336,277.5 334.4,280.6 331,276Z" stroke-opacity="0.45"/>
<path d="M353.8,273 357.5,268.8 362.5,265.6 366.3,265.6 373,263.8 372.5,254.4 379.4,250.6 390,244.4 397.5,245.3 399.4,244.4 417.5,253 417.5,263 414.4,267.5 413.8,271 415,275.6 418,280.6 421,277.5 425,279.4 428.8,278.8 432.5,277.5 436,278 436.9,273.8 438.8,272.5 441,278.8 443,273.8 446,266 450,265.6 455,266.9 458.8,271.9 460,275 461.9,276 467.5,275.6 473.8,274 478.5,273.1 478.8,277.5 476.9,283.8 473.1,290.6 467.5,297.5 461.9,303.8 457.5,307.5 456.9,303.8 456.9,296 460,292.5 453.8,294.4 448.8,292.5 443,289.4 441,293 433.8,293.8 428.8,291.9 425,289.4 420,290.6 413.8,291.9 407.5,290.6 402.5,293.8 400,295 398,288.8 400,285 397.5,278.8 396.9,273.8 393.8,280 390,285 386,287.5 383.8,291 378.8,293 376,291.9 373.8,288.8 370.6,288 366.9,288.8 366.9,277.5 367.5,273 362.5,275 357.5,277.5 354.4,276.9Z" stroke-opacity="0.45"/>
<path d="M393.1,320 401.9,320 403.8,322.5 411.2,321.9 413.8,327.5 414.4,331.9 418.1,331.9 417.5,336.2 413.8,336.9 413.1,344.4 415.6,347.8 410.6,349 403.8,348.5 390.6,348.1 390.6,345 392.5,336.2 394.4,327.5Z" stroke-opacity="0.45"/>
<path d="M389,313 391.5,311.5 392.5,315.5 390.5,316.5Z" stroke-opacity="0.45"/>
<path d="M390.6,348.1 403.8,348.5 410.6,349 417.5,348.1 419.4,348.8 411.2,350 410.6,358.8 408.1,360 408.1,367.5 411.2,371.2 416.2,368.1 421.2,367.5 425,362.5 428.8,360 433.1,360.6 434.4,365.6 435.6,366.9 436.2,370 434.4,375 430,381.2 425,386.9 420,389.4 412.5,390 406.2,392.2 403.8,387.5 401.9,381.2 398.1,372.5 396.2,363.8 393.8,355Z" stroke-opacity="0.45"/>
<path d="M423.1,378.8 425.6,376.5 427.2,377.8 425,381Z" stroke-opacity="0.45"/>
<path d="M431.9,370 433.8,369.4 434.4,371.2 432.5,372.2Z" stroke-opacity="0.45"/>
<path d="M475,334.4 476.9,338.8 475.6,345 473.1,352.5 470,361.2 467.5,366.9 463.8,368.5 460.6,366.2 460,360 462.5,353.8 463.1,346.2 467.5,343.1 471.2,338.8Z" stroke-opacity="0.45"/>
<path d="M518.8,202.5 526.2,195 530,186.2 537.5,180 547.5,185 553.8,188.8 565,195 580,196.2 592.5,191.2 602.5,183.8 593.8,180 596.2,171.2 600,168.8 610,173.8 618.8,178.8 625,183.8 631.2,182.5 630,191.2 625,197.5 623.8,202.5 618.8,203.8 613.8,200 610,205 616.2,207.5 620,211.2 618.8,216.2 622.5,222.5 627.5,228.8 628.8,230 626.9,235 623.8,240 620,243.8 615,246.2 610,248.1 608.1,251.2 607.5,248.8 605,249.4 601.2,248.8 598.8,246.2 596.2,244.4 592.5,245 588.8,246.9 585,247.5 581.2,242.5 580,238.1 578.1,233.1 574.4,231.2 573.1,228.1 570,228.8 565,231.2 558.8,232.5 553.8,231.9 546.2,229.4 538.8,226.9 533.8,221.2 530,211.2 523.8,207.5Z" stroke-opacity="0.45"/>
<path d="M605,254.4 607.5,252.5 609.4,253.8 608.1,256.2 605.6,256.9Z" stroke-opacity="0.45"/>
<path d="M629.7,206.6 632,205.7 634.7,207.5 637,210.3 637.9,213 636.5,214.8 633.8,215.8 632.4,213.9 631.5,211.2 630.1,208.9Z" stroke-opacity="0.45"/>
<path d="M538.8,226.9 546.2,229.4 553.8,231.9 556.2,233.8 555.6,236.2 551.2,235 545,233.1 539.4,230.6 538.1,228.8Z" stroke-opacity="0.45"/>
<path d="M558.8,232.5 563.1,232.5 563.8,234.4 559.4,235Z" stroke-opacity="0.45"/>
<path d="M558.1,236.9 561.2,238.1 566.2,239.4 565.6,243.1 567.5,245.6 563.1,246.9 560.6,246.2 559.4,241.9Z" stroke-opacity="0.45"/>
<path d="M578.1,233.1 580,238.1 581.2,242.5 585,247.5 586.9,249.4 585,252.5 581.9,253.8 580.6,256.9 582.5,261.2 584.4,266.2 585.6,271.2 584.4,273.1 583.1,268.8 581.2,263.8 578.1,263.1 575,262.5 573.8,256.9 571.2,252.5 568.8,248.8 569.4,244.4 570.6,240 572.5,235.6 574.4,231.2 576.2,231.9Z" stroke-opacity="0.45"/>
<path d="M586.9,249.4 588.8,246.9 592.5,248.8 591.2,251.2 595,254.4 598.1,258.1 602.5,263.1 603.8,266.9 604.4,271.9 602.5,275 598.8,276.2 595.6,275 593.1,270.6 595,266.9 599.4,266.2 598.8,262.5 596.2,258.1 592.5,256.9 588.8,257.5 586.9,255 585,252.5Z" stroke-opacity="0.45"/>
<path d="M581.9,253.8 585,252.5 586.9,255 588.8,257.5 592.5,256.9 596.2,258.1 598.8,262.5 599.4,266.2 595,266.9 593.1,270.6 591.2,271.2 588.8,269.4 587.5,272.5 588.1,277.5 590,282.5 592.5,286.2 594,287.8 592.2,288.8 588.8,286.2 585.6,282.5 585,277.5 585.6,271.2 584.4,266.2 582.5,261.2 580.6,256.9Z" stroke-opacity="0.45"/>
<path d="M543.1,280 545,278.8 547.5,283.1 546.9,287.5 544.4,288.1 543.1,284.4Z" stroke-opacity="0.45"/>
<path d="M448,218.8 451,216 453.3,210.5 455.9,209 458.5,209.8 460.8,213 462.3,215 463,218.8 466,221.8 467.5,224.8 467.9,227.4 466,228.5 463.8,228.9 461.5,228.5 459.3,226.3 455.5,223.6 451.8,221.8 448.8,220.6Z" stroke-opacity="0.45"/>
<path d="M494.2,214.2 497.9,212.5 500.8,209.6 504.2,208.3 508.3,208.8 511.7,207.1 512.9,205.4 514.6,208.3 515.8,210.4 517.9,208.3 521.3,208.3 523.3,210.8 526.7,212.5 529.2,213.8 528.3,215.4 525,215.4 522.1,216.3 523.3,219.2 525.4,221.3 525,224.2 522.9,226.7 522.1,229.6 518.8,232.5 516.3,235 517.5,237.5 520,240.8 515.8,241.7 513.3,242.5 510.8,240 509.2,238.8 504.2,238.8 499.2,238.8 500.4,236.3 502.1,234.2 500,231.3 497.9,228.8 497.5,228.3 496.3,226.7 496.7,223.3 495,220 493.8,216.7Z" stroke-opacity="0.45"/>
<path d="M459.4,260.6 465,258.8 470,259.4 474.4,256.2 480,255 481.9,260.6 477.5,264.4 471.2,267.5 465,270 461.9,271.9 460.6,268.1Z" stroke-opacity="0.45"/>
<path d="M477.5,242.5 482.5,241.2 486.2,237.5 487.5,236.9 488.1,240 485.6,244.4 482.5,245.6 478.8,244.4Z" stroke-opacity="0.45"/>
<path d="M439,222.5 439.8,218.8 440.9,219 440.6,222.5 440,226.3 439.4,229.3 438.8,225.5Z" stroke-opacity="0.45"/>
<path d="M578.1,290 582.5,289.4 588.8,293.8 593.8,298.8 598.1,304.4 601.9,310 602.5,316.2 600,318.1 595.6,314.4 591.2,309.4 587.5,302.5 583.1,295.6 579.4,291.9Z" stroke-opacity="0.45"/>
<path d="M601.2,320 605.6,318.8 611.2,320.6 616.2,320.6 621.2,323.1 623.8,324.4 620.6,325.6 615,324.4 608.8,323.1 603.8,321.9Z" stroke-opacity="0.45"/>
<path d="M626.2,325.6 630,324.4 630.6,325.6 626.9,326.5Z" stroke-opacity="0.45"/>
<path d="M631.2,327.5 634.4,328.1 633.8,329.4Z" stroke-opacity="0.45"/>
<path d="M633.1,325 640,324 639.4,325.2 633.8,326Z" stroke-opacity="0.45"/>
<path d="M640.6,328.8 645,325.6 649.8,324.4 648.8,326 643.8,328.8 641.2,329.8Z" stroke-opacity="0.45"/>
<path d="M609.4,301.2 611.9,299.4 615,301.2 620,300 624.4,296.2 626.2,293.1 628.8,292.5 630,296.2 629.4,300.6 631.2,301.2 628.8,304.4 627.5,308.8 625,313.1 620.6,313.1 616.9,311.2 612.5,310.6 611.2,306.2Z" stroke-opacity="0.45"/>
<path d="M611.9,299.4 615,296.2 620,293.8 622.5,290.6 626.9,286.2 630,288.1 631.9,290 630,292.5 626.2,293.1 624.4,296.2 620,300 615,301.2Z" stroke-opacity="0.45"/>
<path d="M589.4,286.2 591.9,285.6 595.6,290.6 598.1,296.2 598.8,300 596.2,299.4 592.5,295 590,290.6Z" stroke-opacity="0.45"/>
<path d="M631.2,311.9 633.1,304.4 636.2,300.6 641.2,300 645.6,299.4 645,301.2 640,302.5 636.2,303.8 637.5,306.2 641.9,305 640.6,306.9 636.9,308.1 639.4,312.5 640.6,316.9 638.1,316.9 636.2,311.2 635,316.9 632.8,317.5Z" stroke-opacity="0.45"/>
<path d="M651.2,298.8 653.1,298.5 654,301.9 652.5,305 651.5,302.5Z" stroke-opacity="0.45"/>
<path d="M648.1,311.2 650,311.5 649.8,313.1 648.2,312.8Z" stroke-opacity="0.45"/>
<path d="M652.5,310.6 656.2,311 658.5,312.8 655,312.2Z" stroke-opacity="0.45"/>
<path d="M665.2,318.1 666.9,317.2 666.2,320.6Z" stroke-opacity="0.45"/>
<path d="M660,305.6 665,304.8 666.2,308.1 663.8,309.4 665.6,312.5 668.8,311.9 671.9,308.8 675.6,307.5 681.9,310 680.6,326.2 676.2,324.4 673.1,324.4 675.6,320.6 672.5,316.9 668.8,314.4 664.4,313.8 661.9,310Z" stroke-opacity="0.45"/>
<path d="M665,318.1 666.5,317.2 666.2,320.6 665,321Z" stroke-opacity="0.45"/>
<path d="M681.9,310 690,313.1 693.8,316.9 696.2,320 694.4,321.9 697.5,325.6 701.2,329.4 700,330.6 695.6,328.8 692.5,325.6 688.8,323.8 685,326.9 680.6,326.2Z" stroke-opacity="0.45"/>
<path d="M697.5,318.1 701.2,316.9 704.4,315 706.9,313.1 703.8,310 705,309.8 708.5,313.1 706.2,316.2 702.5,318.8 698.8,319.8Z" stroke-opacity="0.45"/>
<path d="M711.2,316.2 713.1,318.8 715,320.6 713.1,320.6 711.2,318.1Z" stroke-opacity="0.45"/>
<path d="M719.4,322.2 722.5,323.8 721.9,324.8 719.4,323.1Z" stroke-opacity="0.45"/>
<path d="M724.4,325 726.2,327.5 725.6,328.8 724,326.2Z" stroke-opacity="0.45"/>
<path d="M721.9,327.2 725,328.8 727.5,330.2 726.9,331 722.5,328.5Z" stroke-opacity="0.45"/>
<path d="M735,340.6 736.5,341.2 737.5,345 736.2,345.6Z" stroke-opacity="0.45"/>
<path d="M757.5,348.1 760,346.9 764.4,344.4 765,345.6 761.2,347.8 758.8,350Z" stroke-opacity="0.45"/>
<path d="M631.9,256.9 635,256.2 636.2,260.6 635,265 636.9,267.5 640.6,268.1 645,272.5 645.6,275 642.5,273.1 638.8,270 635,269.4 633.1,266.9 631.2,262.5Z" stroke-opacity="0.45"/>
<path d="M636.9,273.1 639.4,274.4 640.6,276.9 642.5,275 644.4,276.9 641.9,280 639.4,278.8 637.5,276.2Z" stroke-opacity="0.45"/>
<path d="M638.1,283.8 641.9,281.9 645,278.8 647.5,280.6 648.8,285 646.9,288.8 644.4,288.1 643.1,285 640,286.2Z" stroke-opacity="0.45"/>
<path d="M630,277.5 631.9,275 632.2,276.2 630.6,278.8Z" stroke-opacity="0.45"/>
<path d="M614,361 620,357 628,353 635,348 640,343 647,339 654,337 660,333 664,334 669,334 667,339 671,344 676,348 679,342 681,335 683,331 686,338 688,346 693,354 697,362 699,370 697,378 693,385 688,391 682,397 676,400 669,402 662,401 659,397 657,392 658,388 654,392 651,386 645,384 638,386 630,388 622,390 614,392 609,390 612,384 613,376 612,369Z" stroke-opacity="0.45"/>
<path d="M663,408 670,407 668,411 663,414 661,412Z" stroke-opacity="0.45"/>
<path d="M731,391 733,395 738,399 734,403 729,406 725,409 724,407 728,403 731,399Z" stroke-opacity="0.45"/>
<path d="M722,407 720,410 714,414 708,418 702,421.6 698,420 702,417 709,413 716,409Z" stroke-opacity="0.45"/>
<path d="M380,111.3 387.5,110 402.5,110.5 397.5,113 390,112.5 387.5,115.5 382.5,113.8Z" stroke-opacity="0.45"/>
<path d="M19.3,253.5 21,251.8 22.6,253.3 20.5,255.2Z" stroke-opacity="0.45"/>
<path d="M17.8,249.6 18.8,249.8 18.6,250.6 17.8,250.4Z" stroke-opacity="0.45"/>
<path d="M15.9,248.3 16.8,248.5 16.6,249.2Z" stroke-opacity="0.45"/>
<path d="M13,246.9 13.7,247 13.5,247.6Z" stroke-opacity="0.45"/>
<path d="M309.5,260 310.5,260.2 310.3,261.2Z" stroke-opacity="0.45"/>
<path d="M311.5,262 312.4,262.2 312,263Z" stroke-opacity="0.45"/>
<path d="M229,258 229.5,258.2 229.3,259Z" stroke-opacity="0.45"/>
<path d="M230.2,262 230.7,262.2 230.5,263Z" stroke-opacity="0.45"/>
<path d="M230,267 230.5,267.2 230.3,268Z" stroke-opacity="0.45"/>
<path d="M228.5,271 229.2,271.2 228.9,272Z" stroke-opacity="0.45"/>
<path d="M461.8,333.3 462.9,333.6 462.5,334.6Z" stroke-opacity="0.45"/>
<path d="M491,354.5 492.1,354.2 492.3,355.6 491.3,355.8Z" stroke-opacity="0.45"/>
</g></g></svg><svg id="legend" width="850" height="600" viewBox="0 0 850 600">
<defs>
<pattern id="hatch" width="4.2" height="4.2" patternUnits="userSpaceOnUse" patternTransform="rotate(40)">
<rect width="4.2" height="4.2" fill="#fcfcfc"/><line x1="2.1" y1="0" x2="2.1" y2="4.2" stroke="#dadada" stroke-width="1.5"/>
</pattern>
</defs>
<g font-family="Liberation Sans, sans-serif" font-size="13" fill="#222" text-anchor="middle">
<rect x="215" y="471.5" width="49" height="10" fill="url(#hatch)" stroke="#bbb" stroke-width="0.6"/>
<line x1="239.5" y1="469" x2="239.5" y2="471.5" stroke="#999" stroke-width="0.6"/>
<text x="239.5" y="464.5">No data</text>
<rect x="283" y="471.5" width="58.5" height="10" fill="#f0f9e8"/>
<rect x="341.5" y="471.5" width="58.5" height="10" fill="#ccebc5"/>
<rect x="400" y="471.5" width="58.5" height="10" fill="#a8ddb5"/>
<rect x="458.5" y="471.5" width="58.5" height="10" fill="#7bccc4"/>
<rect x="517" y="471.5" width="58.5" height="10" fill="#43a2ca"/>
<rect x="575.5" y="471.5" width="58.5" height="10" fill="#0868ac"/>
<rect x="283" y="471.5" width="351" height="10" fill="none" stroke="#aaa" stroke-width="0.5"/>
<g stroke="#888" stroke-width="0.6"><line x1="341.5" y1="468.5" x2="341.5" y2="481.5"/><line x1="400" y1="468.5" x2="400" y2="481.5"/><line x1="458.5" y1="468.5" x2="458.5" y2="481.5"/><line x1="517" y1="468.5" x2="517" y2="481.5"/><line x1="575.5" y1="468.5" x2="575.5" y2="481.5"/><line x1="283" y1="468.5" x2="283" y2="481.5"/></g>
<text x="283" y="464.5">0</text><text x="341.5" y="464.5">0</text><text x="400" y="464.5">20</text><text x="458.5" y="464.5">40</text><text x="517" y="464.5">60</text><text x="575.5" y="464.5">80</text><text x="634" y="464.5">100</text>
</g>
</svg>
<div class="abs ft" id="f1" style="left:16px;top:502px"><b>Data source:</b> World Health Organization (WHO) Global Health Observatory, via World Bank (2025)</div>
<div class="abs ft" id="f2" style="right:21px;top:502px">financing-healthcare | CC BY</div>
<div class="abs ft" id="f3" style="left:16px;top:521px"><b>Note:</b> The healthcare index used to assess coverage of essential health services is based on a range of health quality and access indicators</div>
<div class="abs ft" id="f4" style="left:16px;top:536.5px">and risk-standardized death rates which give a measure of healthcare access and quality. This definition acknowledges that countries provide</div>
<div class="abs ft" id="f5" style="left:16px;top:552px">a wide range of services for health promotion, prevention, treatment, and care, including rehabilitation and palliation, and that tracer indicators</div>
<div class="abs ft" id="f6" style="left:16px;top:567.5px">should be selected to represent overall coverage of essential services.</div>
</body>
</html>
